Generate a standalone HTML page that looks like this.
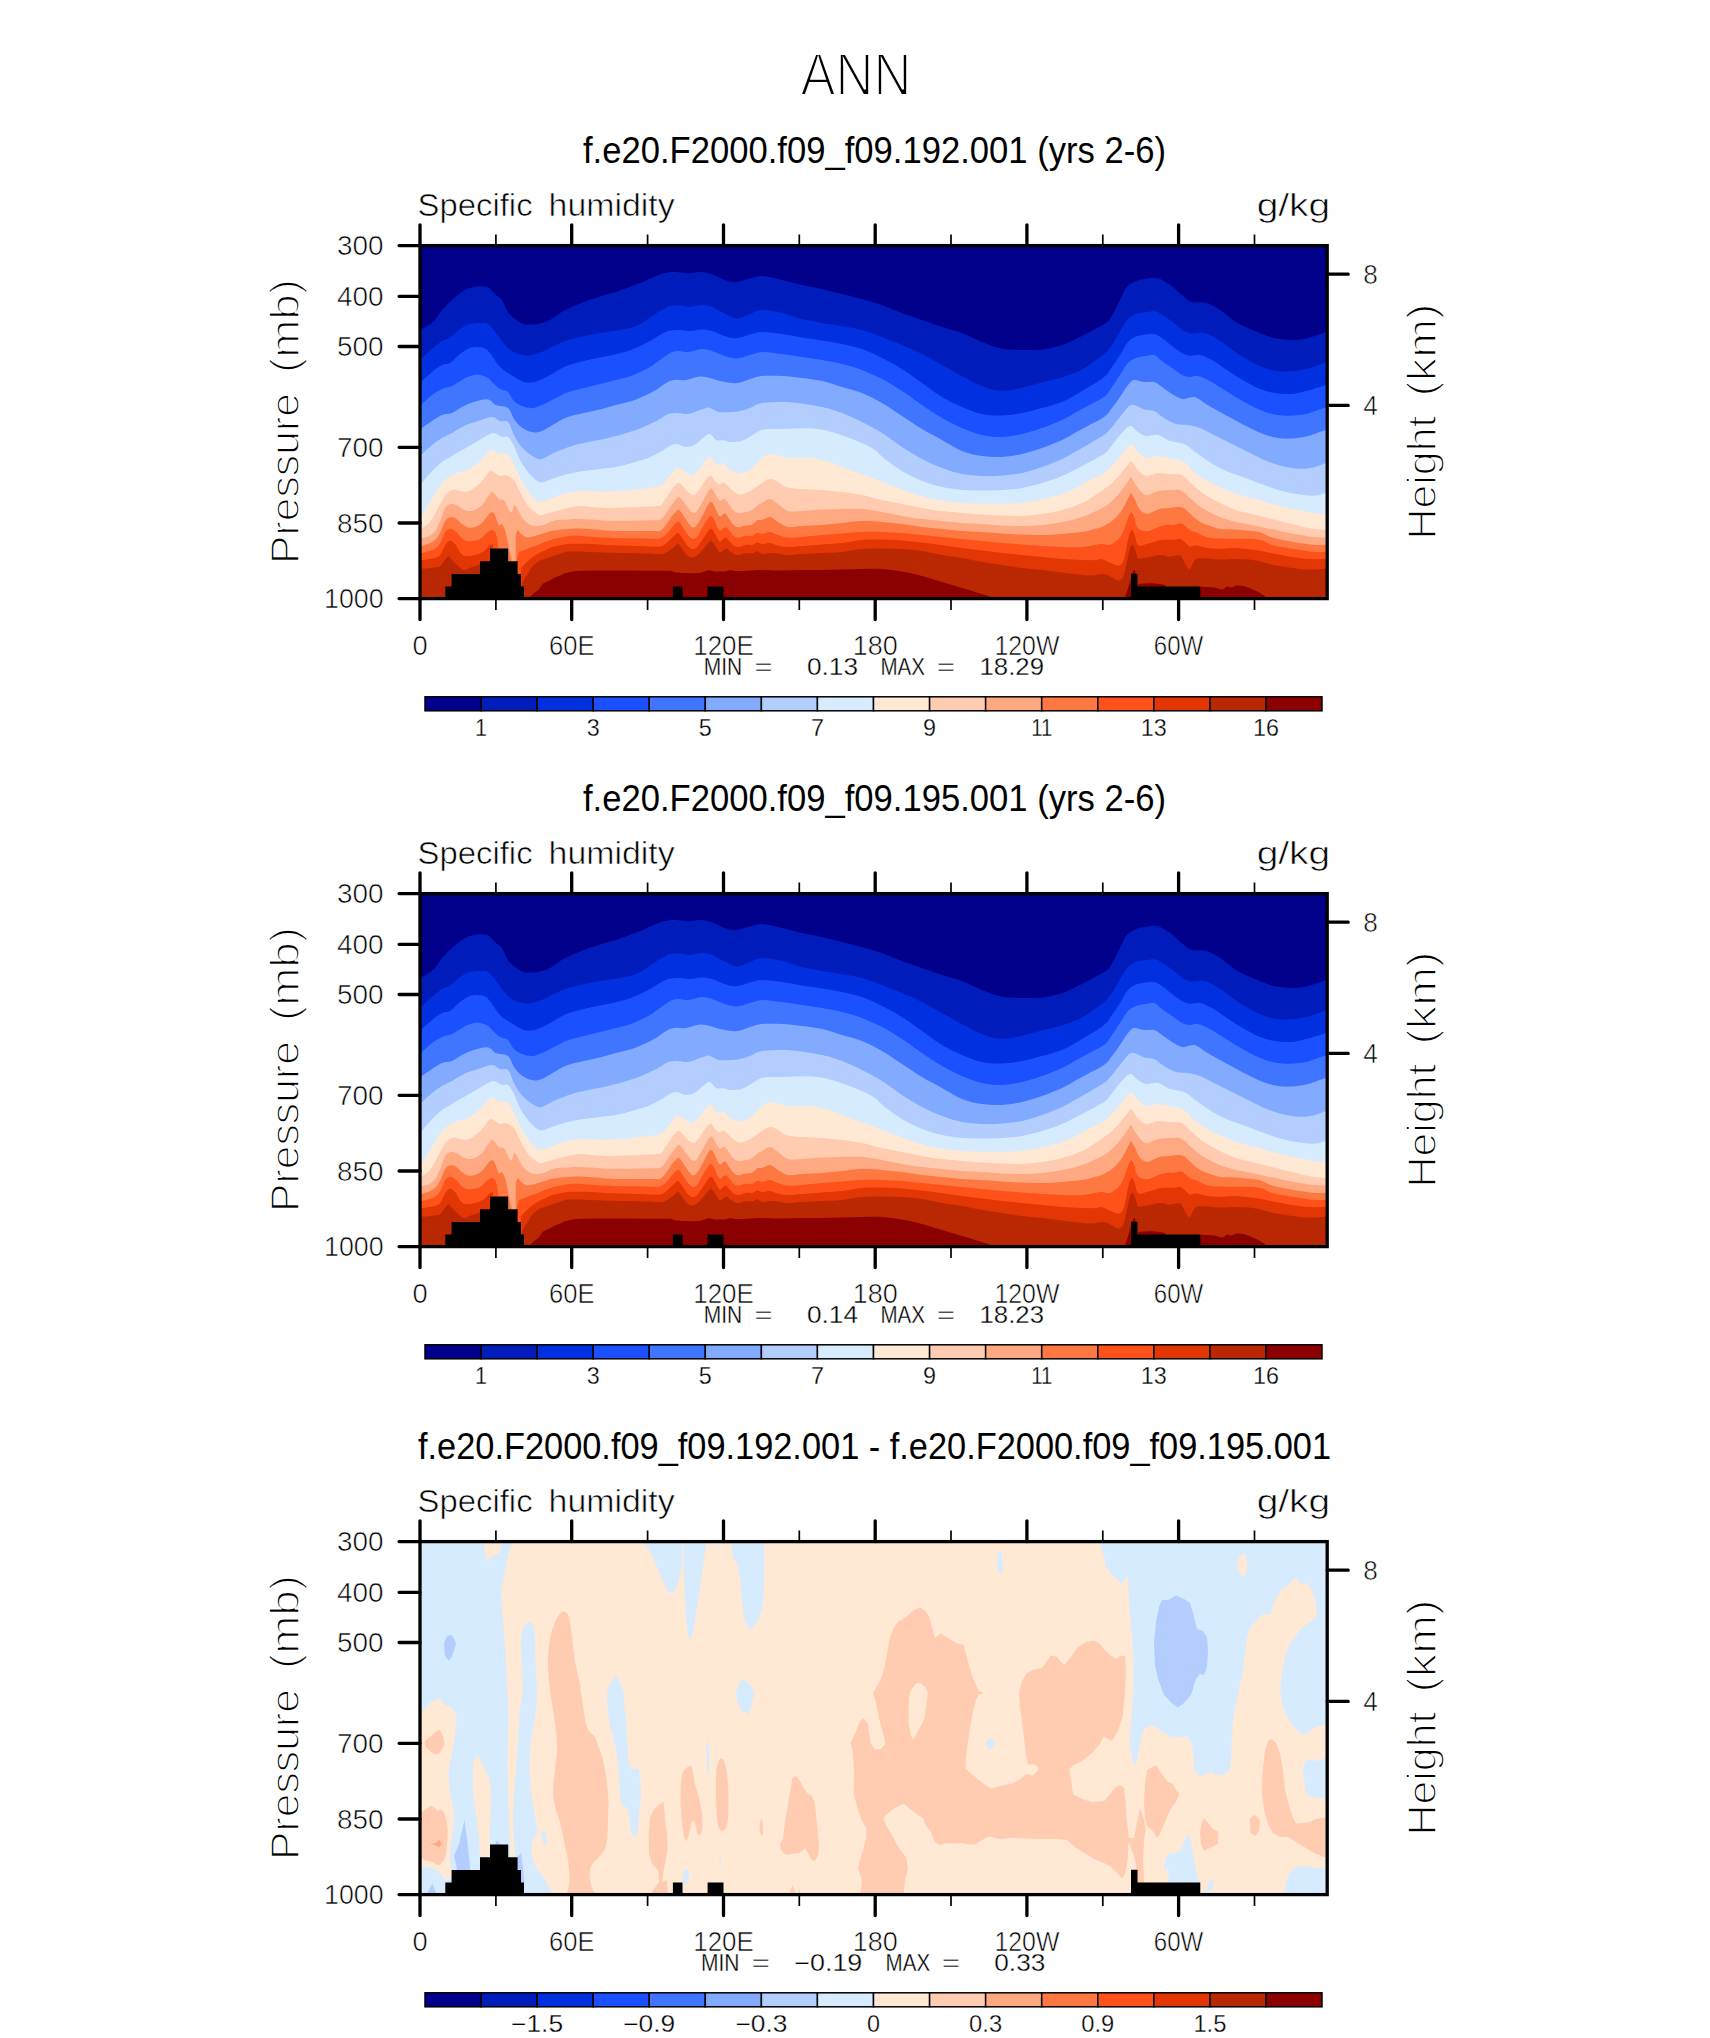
<!DOCTYPE html>
<html lang="en"><head><meta charset="utf-8"><title>ANN Specific humidity</title>
<style>html,body{margin:0;padding:0;background:#fff}svg{display:block}text{font-family:"Liberation Sans", Arial, Helvetica, sans-serif;fill:#000}.h{stroke:#fff;stroke-width:0.6px}.h0{stroke:#fff;stroke-width:0.3px}.t{stroke:#000;stroke-width:0.4px}.h2{stroke:#fff;stroke-width:1.5px}.ax{stroke:#000;fill:none}</style></head><body>
<svg width="1710" height="2038" viewBox="0 0 1710 2038">
<rect width="1710" height="2038" fill="#fff"/>
<defs>
<clipPath id="clipbox"><rect x="420" y="245.6" width="907.2" height="353"/></clipPath>
<g id="humid" clip-path="url(#clipbox)">
<rect x="420" y="245.6" width="907.2" height="353" fill="#00008B"/>
<path d="M420 330C420.3 329.8 421.1 329.5 422 329C422.9 328.5 430.7 324.2 434 321C437.3 317.8 439 313.5 442 310C445 306.5 448.3 303.2 452 300C455.7 296.8 460.3 292.8 464 290.6C467.7 288.4 470.7 287.7 474 287C477.3 286.3 481.6 286.2 484 286.4C486.4 286.6 487.1 286.6 489 288C490.9 289.4 493.8 293 496 295C498.2 297 500 297.2 502 300C504 302.8 506 309 508 312C510 315 511.7 316.1 514 318C516.3 319.9 519 322.3 522 323.4C525 324.5 528.7 324.7 532 324.6C535.3 324.5 539 323.8 542 323C545 322.2 547 321.7 550 320C553 318.3 556.3 315.2 560 313C563.7 310.8 568 308.8 572 307C576 305.2 579.3 303.7 584 302C588.7 300.3 594 298.5 600 296.6C606 294.7 613.3 292.9 620 290.6C626.7 288.3 634 285.4 640 283C646 280.6 651.3 277.8 656 276C660.7 274.2 664 273 668 272.4C672 271.8 676.3 272.2 680 272.4C683.7 272.6 686.7 273.7 690 273.6C693.3 273.5 696.7 272 700 272C703.3 272 706.7 272.6 710 273.6C713.3 274.6 717 276.8 720 278C723 279.2 725.3 280.3 728 281C730.7 281.7 732.7 282.3 736 282C739.3 281.7 743.7 280 748 279C752.3 278 756.3 275.8 762 276C767.7 276.2 775.3 278.5 782 280C788.7 281.5 795.3 283.5 802 285C808.7 286.5 815.3 287.5 822 289C828.7 290.5 835.3 292.3 842 294C848.7 295.7 855.3 297.2 862 299C868.7 300.8 875.3 302.7 882 305C888.7 307.3 895.3 310.5 902 313C908.7 315.5 915.3 317.7 922 320C928.7 322.3 935.3 324.8 942 327C948.7 329.2 955.3 330.5 962 333C968.7 335.5 975.3 339.4 982 342C988.7 344.6 995.3 347.3 1002 348.6C1008.7 349.9 1015.3 349.9 1022 350C1028.7 350.1 1035.3 350.2 1042 349.4C1048.7 348.6 1055.3 347.2 1062 345C1068.7 342.8 1075 339.5 1082 336C1089 332.5 1101 325.8 1104 324C1107 322.2 1108 321.9 1110 319C1112 316.1 1115.3 309.2 1118 304C1120.7 298.8 1123.3 291.7 1126 288C1128.7 284.3 1131 283.5 1134 282C1137 280.5 1140.3 279.7 1144 279C1147.7 278.3 1152.7 277.7 1156 278C1159.3 278.3 1161 279.3 1164 281C1167 282.7 1170.7 285.3 1174 288C1177.3 290.7 1181 294.7 1184 297C1187 299.3 1188.7 301.1 1192 302C1195.3 302.9 1200.3 301.7 1204 302.4C1207.7 303.1 1210.7 304.2 1214 306C1217.3 307.8 1220.3 310.3 1224 313C1227.7 315.7 1232 319.5 1236 322C1240 324.5 1244 326.2 1248 328C1252 329.8 1256 331.4 1260 333C1264 334.6 1268 336.3 1272 337.4C1276 338.5 1280 339.2 1284 339.6C1288 340 1292 340.3 1296 340C1300 339.7 1304.3 338.8 1308 338C1311.7 337.2 1314.8 336.1 1318 335C1321.2 333.9 1325.5 332.2 1327 331.6L1329.2 600.6L418 600.6Z" fill="#001CBA"/>
<path d="M420 359.4C420.3 359.2 421.2 358.7 422 358C422.8 357.3 428.7 351.8 432 349C435.3 346.2 439 342.9 442 341C445 339.1 447 339.4 450 337.4C453 335.4 456.7 331.2 460 329C463.3 326.8 466.7 325 470 324C473.3 323 477 323 480 323C483 323 485.3 322.3 488 324C490.7 325.7 493.7 330.2 496 333C498.3 335.8 500 338.5 502 341C504 343.5 505.7 346 508 348C510.3 350 513 351.8 516 353C519 354.2 522.7 355.2 526 355.4C529.3 355.6 532.3 355.1 536 354C539.7 352.9 544 350.8 548 349C552 347.2 556 344.7 560 343C564 341.3 568 340.2 572 339C576 337.8 579.3 337 584 336C588.7 335 594 334 600 333C606 332 614 331.2 620 330C626 328.8 631.3 327.8 636 326C640.7 324.2 644 321.5 648 319C652 316.5 656.3 313.2 660 311C663.7 308.8 666.7 306.9 670 306C673.3 305.1 676.7 305.4 680 305.6C683.3 305.8 686.7 307.1 690 307C693.3 306.9 696.7 305.2 700 305C703.3 304.8 706.7 305 710 306C713.3 307 716.7 309.3 720 311C723.3 312.7 727 314.8 730 316C733 317.2 735 318.6 738 318.4C741 318.2 744 316.4 748 315C752 313.6 756.3 310.3 762 310C767.7 309.7 775.3 311.5 782 313C788.7 314.5 795.3 317.3 802 319C808.7 320.7 815.3 321.8 822 323C828.7 324.2 835.3 324.8 842 326C848.7 327.2 855.3 328.2 862 330C868.7 331.8 875.3 334.5 882 337C888.7 339.5 895.3 342.2 902 345C908.7 347.8 915.3 350.7 922 354C928.7 357.3 935.3 361.3 942 365C948.7 368.7 955.3 372.5 962 376C968.7 379.5 976 383.6 982 386C988 388.4 992.7 390 998 390.6C1003.3 391.2 1008.3 390.3 1014 389.4C1019.7 388.5 1025.7 386.6 1032 385C1038.3 383.4 1045.3 381.8 1052 380C1058.7 378.2 1066.3 376.2 1072 374C1077.7 371.8 1080.7 370.3 1086 367C1091.3 363.7 1099.8 357.5 1104 354C1108.2 350.5 1109.3 348.8 1112 345C1114.7 341.2 1117.3 335.3 1120 331C1122.7 326.7 1125.3 321.8 1128 319C1130.7 316.2 1133 315.2 1136 314C1139 312.8 1142.7 312.4 1146 312C1149.3 311.6 1153 310.7 1156 311.4C1159 312.1 1161 314.1 1164 316C1167 317.9 1170.7 320.5 1174 323C1177.3 325.5 1181 329.3 1184 331C1187 332.7 1188.7 333.1 1192 333.4C1195.3 333.7 1200.3 332.4 1204 333C1207.7 333.6 1210.3 335 1214 337C1217.7 339 1222 342.2 1226 345C1230 347.8 1234 351.3 1238 354C1242 356.7 1246 358.8 1250 361C1254 363.2 1258 365.4 1262 367C1266 368.6 1270 369.9 1274 370.6C1278 371.3 1282 371.4 1286 371.4C1290 371.4 1294 371.2 1298 370.6C1302 370 1306.3 369 1310 368C1313.7 367 1317.2 365.7 1320 364.6C1322.8 363.5 1325.8 362.1 1327 361.6L1329.2 600.6L418 600.6Z" fill="#0030E0"/>
<path d="M420 382.6C420.3 382.3 421.1 381.8 422 381C422.9 380.2 428.7 374.7 432 372C435.3 369.3 439 366.5 442 365C445 363.5 447 364.8 450 363C453 361.2 456.7 356.5 460 354C463.3 351.5 467 349.2 470 348C473 346.8 475.3 346.8 478 347C480.7 347.2 483.7 347.5 486 349C488.3 350.5 489.7 353 492 356C494.3 359 497.3 364.2 500 367C502.7 369.8 505.3 371.2 508 373C510.7 374.8 513.3 376.5 516 378C518.7 379.5 521.3 381.2 524 382C526.7 382.8 529.3 382.9 532 382.6C534.7 382.3 536.7 381.4 540 380C543.3 378.6 548 376.2 552 374C556 371.8 560 368.8 564 367C568 365.2 571.3 364.3 576 363C580.7 361.7 586.3 360.3 592 359C597.7 357.7 604 356.7 610 355.4C616 354.1 623 352.6 628 351C633 349.4 636.3 347.7 640 346C643.7 344.3 646.7 342.8 650 341C653.3 339.2 656.7 336.7 660 335C663.3 333.3 666.7 331.4 670 330.6C673.3 329.8 676.7 329.9 680 330C683.3 330.1 686.3 331.1 690 331C693.7 330.9 698.3 329.4 702 329.4C705.7 329.4 708.7 330.1 712 331C715.3 331.9 718.7 333.8 722 335C725.3 336.2 729 337.6 732 338C735 338.4 737 338 740 337.4C743 336.8 746.3 335.3 750 334.4C753.7 333.5 756.7 332.1 762 332C767.3 331.9 775.3 333.1 782 334C788.7 334.9 795.3 336.3 802 337.4C808.7 338.5 815.3 339.5 822 340.6C828.7 341.7 835.3 342.6 842 344C848.7 345.4 855.3 346.7 862 349C868.7 351.3 875.3 354.7 882 358C888.7 361.3 895.3 364.8 902 369C908.7 373.2 915.3 378.3 922 383C928.7 387.7 935.3 393 942 397C948.7 401 955.3 404.2 962 407C968.7 409.8 975.3 412.6 982 414C988.7 415.4 995.3 415.6 1002 415.4C1008.7 415.2 1015.3 414.2 1022 413C1028.7 411.8 1035.3 409.8 1042 408C1048.7 406.2 1055.3 404.8 1062 402C1068.7 399.2 1075 395.2 1082 391C1089 386.8 1099.5 380.6 1104 377C1108.5 373.4 1109.3 370.7 1112 367C1114.7 363.3 1117.3 359.2 1120 355C1122.7 350.8 1125.3 345.1 1128 342C1130.7 338.9 1133 337.8 1136 336.6C1139 335.4 1143 335 1146 334.6C1149 334.2 1151.3 333.4 1154 334C1156.7 334.6 1159 336 1162 338C1165 340 1168.7 343.5 1172 346C1175.3 348.5 1179 351.4 1182 353C1185 354.6 1187 355.3 1190 355.6C1193 355.9 1196.3 354.3 1200 355C1203.7 355.7 1208 357.8 1212 360C1216 362.2 1220 365.3 1224 368C1228 370.7 1232 373.5 1236 376C1240 378.5 1244 380.8 1248 383C1252 385.2 1256 387.4 1260 389C1264 390.6 1268 391.8 1272 392.6C1276 393.4 1280 393.9 1284 394C1288 394.1 1292 394 1296 393.4C1300 392.8 1304 391.7 1308 390.6C1312 389.5 1316.8 388.1 1320 387C1323.2 385.9 1325.8 384.7 1327 384.2L1329.2 600.6L418 600.6Z" fill="#1A50FF"/>
<path d="M420 405.6C420.3 405.3 421.1 404.8 422 404C422.9 403.2 428.7 397.5 432 395C435.3 392.5 438.7 390.5 442 389C445.3 387.5 448.7 387.5 452 386C455.3 384.5 458.7 381.7 462 380C465.3 378.3 469 376.4 472 375.6C475 374.8 477.3 374.6 480 375C482.7 375.4 485.7 376.5 488 378C490.3 379.5 492 382.2 494 384C496 385.8 497.7 387.7 500 389C502.3 390.3 505.7 390 508 392C510.3 394 511.7 398.7 514 401C516.3 403.3 519 404.8 522 406C525 407.2 528.7 408.2 532 408C535.3 407.8 538.3 406.5 542 405C545.7 403.5 550 401 554 399C558 397 561.7 394.7 566 393C570.3 391.3 575 390.3 580 389C585 387.7 590.7 386.3 596 385C601.3 383.7 606.7 382.3 612 381C617.3 379.7 623.3 378.5 628 377C632.7 375.5 636.3 373.7 640 372C643.7 370.3 646.7 369 650 367C653.3 365 656.7 362.3 660 360C663.3 357.7 667 354.5 670 353C673 351.5 675 351.2 678 351C681 350.8 684 352.3 688 352C692 351.7 698 349.2 702 349C706 348.8 708.7 350 712 351C715.3 352 718.7 353.8 722 355C725.3 356.2 729 357.5 732 358C735 358.5 737 358.5 740 358C743 357.5 746.3 356 750 355C753.7 354 756.7 352.2 762 352C767.3 351.8 775.3 353.2 782 354C788.7 354.8 795.3 356 802 357C808.7 358 815.3 358.8 822 360C828.7 361.2 835.3 362.3 842 364C848.7 365.7 855.3 367.5 862 370C868.7 372.5 875.3 375.5 882 379C888.7 382.5 895.3 386.7 902 391C908.7 395.3 915.3 400.5 922 405C928.7 409.5 935.3 414.2 942 418C948.7 421.8 955.3 425.2 962 428C968.7 430.8 975.3 433.5 982 435C988.7 436.5 995.3 437.2 1002 437C1008.7 436.8 1015.3 435.5 1022 434C1028.7 432.5 1035.3 430.3 1042 428C1048.7 425.7 1055.3 423.2 1062 420C1068.7 416.8 1075 412.8 1082 409C1089 405.2 1099.3 400.4 1104 397C1108.7 393.6 1109.3 390.7 1112 387C1114.7 383.3 1117.3 379 1120 375C1122.7 371 1125.3 365.8 1128 363C1130.7 360.2 1133 359.2 1136 358C1139 356.8 1143 356.5 1146 356C1149 355.5 1151.3 354.2 1154 355C1156.7 355.8 1159 358.8 1162 361C1165 363.2 1168.7 365.7 1172 368C1175.3 370.3 1179 373.5 1182 375C1185 376.5 1187.3 376.8 1190 377C1192.7 377.2 1194.7 375.3 1198 376C1201.3 376.7 1206 378.9 1210 381C1214 383.1 1218 386.1 1222 388.6C1226 391.1 1230 393.6 1234 396C1238 398.4 1242 400.8 1246 403C1250 405.2 1254 407.3 1258 409C1262 410.7 1266 412.3 1270 413.4C1274 414.5 1278 415.2 1282 415.6C1286 416 1290 415.9 1294 415.6C1298 415.3 1302 414.9 1306 414C1310 413.1 1314.5 411.2 1318 410C1321.5 408.8 1325.5 407.5 1327 407L1329.2 600.6L418 600.6Z" fill="#4076FF"/>
<path d="M420 429.4C420.3 429.2 421.1 428.6 422 428C422.9 427.4 428.7 423.2 432 421C435.3 418.8 438.7 416.3 442 415C445.3 413.7 448.7 414.3 452 413C455.3 411.7 458.3 408.8 462 407C465.7 405.2 469.7 403.3 474 402C478.3 400.7 484.3 398.9 488 399.4C491.7 399.9 492.7 403.6 496 405C499.3 406.4 505 405.7 508 408C511 410.3 512 416 514 419C516 422 517.7 424 520 426C522.3 428 525.3 429.9 528 431C530.7 432.1 533.3 432.6 536 432.4C538.7 432.2 540.7 431.6 544 430C547.3 428.4 552 425.2 556 423C560 420.8 563.3 418.7 568 417C572.7 415.3 578.7 414.3 584 413C589.3 411.7 594.7 410.7 600 409.4C605.3 408.1 610.7 406.4 616 405C621.3 403.6 627.3 402.5 632 401C636.7 399.5 640 397.8 644 396C648 394.2 652.3 392.2 656 390C659.7 387.8 663 384.7 666 383C669 381.3 670.7 380.5 674 380C677.3 379.5 681.7 380.6 686 380C690.3 379.4 696 376.9 700 376.6C704 376.3 706.7 377.3 710 378C713.3 378.7 716.3 380.2 720 381C723.7 381.8 728.7 382.7 732 383C735.3 383.3 737 383.3 740 382.6C743 381.9 746.3 380.1 750 379C753.7 377.9 756.7 376.5 762 376C767.3 375.5 775.3 375.7 782 376C788.7 376.3 795.3 377.2 802 378C808.7 378.8 815.3 379.5 822 381C828.7 382.5 835.3 385 842 387C848.7 389 855.3 390.3 862 393C868.7 395.7 875.3 399.2 882 403C888.7 406.8 895.3 411.7 902 416C908.7 420.3 915.3 425 922 429C928.7 433 935.3 436.3 942 440C948.7 443.7 955.3 448.3 962 451C968.7 453.7 975.3 455 982 456C988.7 457 995.3 457.3 1002 457C1008.7 456.7 1015.3 455.5 1022 454C1028.7 452.5 1035.3 450.3 1042 448C1048.7 445.7 1055.3 443.2 1062 440C1068.7 436.8 1075 432.8 1082 429C1089 425.2 1099.5 420.1 1104 417C1108.5 413.9 1109.3 411.3 1112 408C1114.7 404.7 1117.3 400.8 1120 397C1122.7 393.2 1125.7 387.7 1128 385C1130.3 382.3 1131.3 380.5 1134 380C1136.7 379.5 1140.7 381.7 1144 382C1147.3 382.3 1151 381.2 1154 382C1157 382.8 1159 385 1162 387C1165 389 1168.7 392 1172 394C1175.3 396 1179.3 398.3 1182 399C1184.7 399.7 1185.7 398.3 1188 398C1190.3 397.7 1193 396.4 1196 397.4C1199 398.4 1202.3 401.7 1206 404C1209.7 406.3 1214 408.8 1218 411C1222 413.2 1226 415.2 1230 417.4C1234 419.6 1238 421.9 1242 424C1246 426.1 1250 428.2 1254 430C1258 431.8 1262 433.7 1266 435C1270 436.3 1274 437.4 1278 438C1282 438.6 1285.7 438.8 1290 438.6C1294.3 438.4 1299.7 437.9 1304 437C1308.3 436.1 1312.2 434.6 1316 433.4C1319.8 432.2 1325.2 430.2 1327 429.6L1329.2 600.6L418 600.6Z" fill="#82AAFF"/>
<path d="M420 455.6C420.3 455.3 421.1 454.8 422 454C422.9 453.2 428.7 447.7 432 445C435.3 442.3 438.7 440 442 438C445.3 436 448.3 435 452 433C455.7 431 459.7 428 464 426C468.3 424 473.3 422.5 478 421C482.7 419.5 488.3 417 492 417C495.7 417 497.3 420.2 500 421C502.7 421.8 505.7 419.7 508 422C510.3 424.3 512 431.2 514 435C516 438.8 517.7 442 520 445C522.3 448 525 450.7 528 453C531 455.3 535.4 458.2 538 459C540.6 459.8 541.4 459 544 458C546.6 457 551.3 454 556 452C560.7 450 566.7 447.7 572 446C577.3 444.3 582.7 443.2 588 442C593.3 440.8 598.7 440.2 604 439C609.3 437.8 614.7 436.5 620 435C625.3 433.5 631 431.8 636 430C641 428.2 646 425.8 650 424C654 422.2 657 420.7 660 419C663 417.3 665 415 668 414C671 413 674.7 413 678 413C681.3 413 684.3 414.5 688 414C691.7 413.5 696.7 411.1 700 410C703.3 408.9 705.7 407.4 708 407.4C710.3 407.4 712 409.2 714 410C716 410.8 717.1 411.7 720 412C722.9 412.3 728.7 412.2 732 412C735.3 411.8 737 411.7 740 411C743 410.3 746.3 409.3 750 408C753.7 406.7 756.1 403.8 762 403C767.9 402.2 782 401.7 792 402.4C802 403.1 813.7 405.2 822 407C830.3 408.8 835.3 410.5 842 413C848.7 415.5 855.3 418.7 862 422C868.7 425.3 875.3 428.8 882 433C888.7 437.2 895.3 442.7 902 447C908.7 451.3 915.3 455.5 922 459C928.7 462.5 935.3 465.5 942 468C948.7 470.5 955.3 472.7 962 474C968.7 475.3 975.3 475.7 982 476C988.7 476.3 995.3 476.1 1002 475.6C1008.7 475.1 1015.3 474.4 1022 473C1028.7 471.6 1035.3 469.3 1042 467C1048.7 464.7 1055.3 462.2 1062 459C1068.7 455.8 1075 452 1082 448C1089 444 1099.8 437.9 1104 435C1108.2 432.1 1109.3 430 1112 427C1114.7 424 1117.3 420.3 1120 417C1122.7 413.7 1125.8 408.9 1128 407C1130.2 405.1 1131.3 404.6 1134 405C1136.7 405.4 1140.7 408.4 1144 409.4C1147.3 410.4 1150.7 409.6 1154 411C1157.3 412.4 1160.3 415.8 1164 418C1167.7 420.2 1172 422.8 1176 424C1180 425.2 1184 424.3 1188 425C1192 425.7 1196 426.5 1200 428C1204 429.5 1208 432 1212 434C1216 436 1220 438 1224 440C1228 442 1232 444 1236 446C1240 448 1244 450 1248 452C1252 454 1256 456.2 1260 458C1264 459.8 1268 461.6 1272 463C1276 464.4 1280 465.5 1284 466.4C1288 467.3 1292 468.1 1296 468.4C1300 468.7 1304.3 468.8 1308 468.4C1311.7 468 1314.8 467 1318 466C1321.2 465 1325.5 463.2 1327 462.6L1329.2 600.6L418 600.6Z" fill="#B4CDFF"/>
<path d="M420 485C420.3 484.7 421.2 484 422 483C422.8 482 428.7 474.5 432 471C435.3 467.5 438.7 464.5 442 462C445.3 459.5 448.3 458.2 452 456C455.7 453.8 459.7 451.5 464 449C468.3 446.5 474 443.3 478 441C482 438.7 485.4 436.3 488 435C490.6 433.7 491.7 432.7 494 433C496.3 433.3 499.7 436.3 502 437C504.3 437.7 506 435.5 508 437C510 438.5 512 442.2 514 446C516 449.8 517.7 455.7 520 460C522.3 464.3 525.3 468.7 528 472C530.7 475.3 533.7 478.3 536 480C538.3 481.7 539.3 482.6 542 482.4C544.7 482.2 547.7 480.4 552 479C556.3 477.6 562.7 475.3 568 474C573.3 472.7 578.7 471.8 584 471C589.3 470.2 594.7 469.7 600 469C605.3 468.3 610.7 468 616 467C621.3 466 626.7 464.5 632 463C637.3 461.5 643.3 459.8 648 458C652.7 456.2 656.3 454 660 452C663.7 450 667.2 447.3 670 446C672.8 444.7 674.3 443.8 677 444C679.7 444.2 682.8 447 686 447C689.2 447 693 445.7 696 444C699 442.3 701.7 438.7 704 437C706.3 435.3 708 433.5 710 434C712 434.5 713.7 438.9 716 440C718.3 441.1 721.3 440.1 724 440.4C726.7 440.7 728.7 442.1 732 442C735.3 441.9 739 442 744 440C749 438 755.7 431.8 762 430C768.3 428.2 773.7 429.3 782 429C790.3 428.7 803.7 427.9 812 428.4C820.3 428.9 825.3 430.2 832 432C838.7 433.8 845.3 436.3 852 439C858.7 441.7 866.3 444.5 872 448C877.7 451.5 881 456.2 886 460C891 463.8 896 467.5 902 471C908 474.5 915.3 478.3 922 481C928.7 483.7 935.3 485.5 942 487C948.7 488.5 955.3 489.4 962 490C968.7 490.6 975.3 490.6 982 490.6C988.7 490.6 995.3 490.4 1002 490C1008.7 489.6 1015.3 489.2 1022 488C1028.7 486.8 1035.3 485 1042 483C1048.7 481 1055.3 478.8 1062 476C1068.7 473.2 1075 469.7 1082 466C1089 462.3 1100.8 456.1 1104 454C1107.2 451.9 1107.5 451 1110 448C1112.5 445 1116.7 438.7 1120 435C1123.3 431.3 1127.1 426.5 1130 426C1132.9 425.5 1135.3 430.3 1138 432C1140.7 433.7 1142.7 435.5 1146 436C1149.3 436.5 1154 434.2 1158 435C1162 435.8 1165.7 439.5 1170 441C1174.3 442.5 1180 442.3 1184 444C1188 445.7 1190 448.2 1194 451C1198 453.8 1203 457.8 1208 461C1213 464.2 1218.7 467.5 1224 470C1229.3 472.5 1234.7 474 1240 476C1245.3 478 1250.7 480 1256 482C1261.3 484 1266.7 486.2 1272 488C1277.3 489.8 1282.7 491.4 1288 492.6C1293.3 493.8 1299.3 494.5 1304 495C1308.7 495.5 1312.2 496 1316 495.6C1319.8 495.2 1325.2 493.1 1327 492.6L1329.2 600.6L418 600.6Z" fill="#D7EBFF"/>
<path d="M420 517C420.3 516.7 421.2 516 422 515C422.8 514 425.7 509.8 428 506C430.3 502.2 433.3 496.2 436 492C438.7 487.8 441 484 444 481C447 478 450.3 475.7 454 474C457.7 472.3 462 472.8 466 471C470 469.2 474.7 465.7 478 463C481.3 460.3 483.8 457.2 486 455C488.2 452.8 488.7 450.2 491 450C493.3 449.8 497.5 453.4 500 454C502.5 454.6 504 452.6 506 453.6C508 454.6 510 456.6 512 460C514 463.4 515.7 469.3 518 474C520.3 478.7 523.3 484 526 488C528.7 492 531.3 495.7 534 498C536.7 500.3 539 501.6 542 501.6C545 501.6 548.3 499.3 552 498C555.7 496.7 559.3 495.2 564 494C568.7 492.8 574 491.4 580 491C586 490.6 593.3 491.6 600 491.6C606.7 491.6 613.3 491.4 620 491C626.7 490.6 633.3 489.8 640 489C646.7 488.2 655.3 487.8 660 486C664.7 484.2 665.7 480.5 668 478C670.3 475.5 672.3 472.7 674 471C675.7 469.3 676.3 467.6 678 467.6C679.7 467.6 681.7 469.8 684 471C686.3 472.2 689.3 475.5 692 475C694.7 474.5 697.7 470.5 700 468C702.3 465.5 704.4 461.9 706 460C707.6 458.1 708.8 456 710 456.4C711.2 456.8 714.4 461.5 716 463C717.6 464.5 718.7 465.4 720 465.6C721.3 465.8 722.2 463.2 724 464C725.8 464.8 729 469.5 732 471C735 472.5 738.7 473.5 742 473C745.3 472.5 748.7 470.5 752 468C755.3 465.5 759 460.3 762 458C765 455.7 767.3 454.4 770 454C772.7 453.6 775.3 454.9 778 455.6C780.7 456.3 782.2 457.7 786 458C789.8 458.3 804.3 457.2 812 458C819.7 458.8 825.3 460.8 832 463C838.7 465.2 845.3 468.5 852 471C858.7 473.5 865.3 475.5 872 478C878.7 480.5 885.3 483.5 892 486C898.7 488.5 905.3 490.8 912 493C918.7 495.2 925.3 497.5 932 499C938.7 500.5 945.3 501.2 952 502C958.7 502.8 965.3 503.3 972 503.6C978.7 503.9 985.3 504 992 504C998.7 504 1005.3 504 1012 503.6C1018.7 503.2 1025.3 502.7 1032 501.6C1038.7 500.5 1045.3 498.9 1052 497C1058.7 495.1 1066 492.7 1072 490C1078 487.3 1082.7 483.8 1088 481C1093.3 478.2 1100 475.5 1104 473C1108 470.5 1109 469.2 1112 466C1115 462.8 1118.8 457.7 1122 454C1125.2 450.3 1129.6 444.2 1131 444C1132.4 443.8 1135.5 449.7 1138 452C1140.5 454.3 1142.7 457.3 1146 458C1149.3 458.7 1154 455.9 1158 456C1162 456.1 1165.7 457.4 1170 458.4C1174.3 459.4 1180 459.7 1184 462C1188 464.3 1190 468.8 1194 472C1198 475.2 1203 478.2 1208 481C1213 483.8 1218.7 486.7 1224 489C1229.3 491.3 1234.7 493.3 1240 495C1245.3 496.7 1250.7 497.5 1256 499C1261.3 500.5 1266.7 502.5 1272 504C1277.3 505.5 1282.7 506.8 1288 508C1293.3 509.2 1299.3 510.1 1304 511C1308.7 511.9 1312.2 513.1 1316 513.6C1319.8 514.1 1325.2 513.9 1327 514L1329.2 600.6L418 600.6Z" fill="#FFE9D5"/>
<path d="M420 529.6C420.3 529.3 421.1 528.7 422 528C422.9 527.3 427.3 525.3 430 522C432.7 518.7 435.3 512.7 438 508C440.7 503.3 443.3 497.1 446 494C448.7 490.9 450.7 489.9 454 489.6C457.3 489.3 462 492.8 466 492C470 491.2 474.7 487.7 478 485C481.3 482.3 483.8 478.3 486 476C488.2 473.7 488.7 471 491 471C493.3 471 497.8 475.4 500 476C502.2 476.6 502.8 474.4 505 475C507.2 475.6 511.5 477.2 514 480C516.5 482.8 517.7 487.7 520 492C522.3 496.3 525.3 502.5 528 506C530.7 509.5 533.7 511.5 536 513C538.3 514.5 539.3 515.2 542 515C544.7 514.8 547.4 513.1 552 512C556.6 510.9 571.2 507.1 577.7 506.3C584.2 505.5 587.3 506.7 592.1 506.9C597 507.2 601.4 507.8 606.6 507.9C611.8 508 617.8 507.7 623.5 507.5C629.1 507.4 635.1 507.1 640.3 506.9C645.5 506.7 652 506.6 654.8 506.3C657.6 506.1 659 506.3 660.8 505.1C662.6 503.9 663.8 501.6 665.6 499.1C667.4 496.6 669.8 492.6 671.6 490C673.5 487.5 675.6 484.8 676.5 484C677.3 483.2 677.9 482.8 678.9 483.1C679.9 483.4 681.1 484.5 682.5 485.8C683.9 487.2 685.7 489.7 687.3 491.3C688.9 492.8 690.7 494.5 692.1 494.9C693.5 495.3 694.4 494.8 695.7 493.7C697.1 492.5 699 489.8 700.6 487.6C702.2 485.4 703.7 482.4 705.4 480.4C707.1 478.4 709.5 475.4 710.6 475.6C711.7 475.8 714.5 480.6 716 482C717.5 483.4 718.7 483.9 720 484C721.3 484.1 722.3 481.7 724 482.6C725.7 483.5 729.3 488 732 490C734.7 492 737 494.4 740 494.6C743 494.8 746.3 492.9 750 491C753.7 489.1 758.7 485 762 483C765.3 481 767.3 479.2 770 479C772.7 478.8 775.3 480.7 778 482C780.7 483.3 782 485.8 786 487C790 488.2 796 488.5 802 489C808 489.5 815.3 489.5 822 490C828.7 490.5 835.3 491.2 842 492C848.7 492.8 855.3 493.7 862 495C868.7 496.3 875.3 498.5 882 500C888.7 501.5 895.3 502.7 902 504C908.7 505.3 915.3 506.8 922 508C928.7 509.2 935.3 510.2 942 511C948.7 511.8 955.3 512.4 962 513C968.7 513.6 975.3 514.2 982 514.6C988.7 515 995.3 515.4 1002 515.6C1008.7 515.8 1015.3 516.3 1022 516C1028.7 515.7 1035.3 515 1042 514C1048.7 513 1055.3 511.8 1062 510C1068.7 508.2 1076.7 505.3 1082 503C1087.3 500.7 1090.3 498.3 1094 496C1097.7 493.7 1101 491.2 1104 489C1107 486.8 1109 485.8 1112 483C1115 480.2 1118.8 475.7 1122 472C1125.2 468.3 1130 461.1 1131 461C1132 460.9 1135.5 467.5 1138 470C1140.5 472.5 1142.7 475.5 1146 476C1149.3 476.5 1154 473.3 1158 473C1162 472.7 1166 473.7 1170 474C1174 474.3 1178.3 473.3 1182 475C1185.7 476.7 1188.3 480.8 1192 484C1195.7 487.2 1199.3 490.8 1204 494C1208.7 497.2 1214.7 500.3 1220 503C1225.3 505.7 1230.7 508.2 1236 510C1241.3 511.8 1246.7 512.7 1252 514C1257.3 515.3 1262.7 516.7 1268 518C1273.3 519.3 1278.7 520.7 1284 522C1289.3 523.3 1295 524.8 1300 526C1305 527.2 1309.5 528.3 1314 529C1318.5 529.7 1324.8 529.8 1327 530L1329.2 600.6L418 600.6Z" fill="#FFCCB1"/>
<path d="M420 538.4C420.3 538.4 421.1 538.2 422.1 538C423 537.8 426.2 537.5 428.3 536.4C430.4 535.2 433 533.9 434.9 531.4C436.9 528.9 438.4 524.9 439.9 521.4C441.5 517.9 442.9 513.1 444.1 510.6C445.2 508.1 446 506.7 447.4 505.6C448.8 504.5 450.7 504 452.4 504C454 504 455.6 504.7 457.4 505.6C459.2 506.5 461.1 508.5 463.2 509.4C465.3 510.3 467.6 511.1 469.8 511C472 511 474.3 510.1 476.5 508.9C478.7 507.8 481.3 505.9 483.1 504C484.9 502 486.2 498.9 487.3 497.3C488.3 495.8 489 494.9 489.8 494C490.5 493.1 491 492.1 491.6 492C492.2 491.9 493 492.8 493.5 493.2C494 493.5 494.3 493.5 494.7 494C495.2 494.5 496.4 496.4 497.2 497.3C498.1 498.2 498.6 498.9 499.7 499.4C500.8 499.9 502.8 499.3 503.9 500.2C505 501.1 505.5 503.2 506.4 504.8C507.2 506.4 508 508.5 508.9 509.8C509.8 511.1 511.8 512.7 511.8 512.7C511.8 512.7 513 508.5 513.4 507.3C513.9 506.1 514.6 504.8 514.7 504.8C514.7 504.8 516.2 506.5 517.2 508.1C518.1 509.7 519.2 512.7 520.5 514.8C521.7 516.8 523 518.8 524.6 520.6C526.3 522.3 528.2 524.2 530.4 525.1C532.7 526 535.3 526.2 537.9 526C540.5 525.8 543.5 524.8 546.2 523.9C549 523 551.3 521.3 554.5 520.6C557.8 519.9 561.8 519.8 565.6 519.6C569.5 519.3 573.3 519 577.7 519C582.1 519 587.3 519.3 592.1 519.6C597 519.9 601.4 520.6 606.6 520.8C611.8 521 617.8 520.8 623.5 520.8C629.1 520.7 635.1 520.5 640.3 520.4C645.5 520.3 652 520.3 654.8 520.2C657.5 520.1 659 520.6 660.8 519.6C662.6 518.6 663.8 516.5 665.6 514.1C667.4 511.7 669.8 507.7 671.6 505.1C673.5 502.5 675.6 499.5 676.5 498.5C677.3 497.5 677.9 496.6 678.9 496.9C679.9 497.2 681.1 498.6 682.5 500.3C683.9 502 685.7 504.9 687.3 506.9C688.9 508.9 690.7 511.4 692.1 512.3C693.5 513.2 694.5 513.4 695.7 512.3C697 511.3 699 507.8 700.6 505.1C702.2 502.4 704 498.6 705.4 496.1C706.8 493.6 708.2 491 709 490C709.8 489.1 710.6 488.4 711.4 488.6C712.2 488.8 712.9 489.9 713.8 491.3C714.7 492.6 716.3 496.3 717.4 497.9C718.5 499.5 719.6 500.7 720.4 500.9C721.3 501.1 722 499.4 722.8 499.1C723.7 498.8 724.4 498.4 725.3 499.1C726.1 499.8 727 501.5 728.3 503.3C729.6 505.1 731.5 508.3 733.1 509.9C734.7 511.5 736.1 512.5 737.9 512.9C739.7 513.3 741.7 512.7 743.9 512.3C746.1 511.9 748.9 511.6 751.2 510.5C753.4 509.4 755.4 507 757.2 505.7C759 504.5 759.9 504.1 762 503C764.1 501.9 767.3 498.8 770 499C772.7 499.2 775 502 778 504C781 506 784 509.8 788 511C792 512.2 796.3 511.2 802 511C807.7 510.8 815.3 509.9 822 509.6C828.7 509.3 835.3 509.1 842 509C848.7 508.9 855.3 508.5 862 509C868.7 509.5 875.3 510.8 882 512C888.7 513.2 895.3 514.8 902 516C908.7 517.2 915.3 518.2 922 519C928.7 519.8 935.3 520.3 942 521C948.7 521.7 955.3 522.5 962 523C968.7 523.5 975.3 523.6 982 524C988.7 524.4 995.3 525.1 1002 525.4C1008.7 525.7 1015.3 526.1 1022 526C1028.7 525.9 1035.3 525.7 1042 525C1048.7 524.3 1055.3 523.3 1062 522C1068.7 520.7 1076.7 518.7 1082 517C1087.3 515.3 1090.3 513.7 1094 512C1097.7 510.3 1101 508.8 1104 507C1107 505.2 1109 503.8 1112 501C1115 498.2 1118.8 494 1122 490C1125.2 486 1130.7 477 1131 477C1131.3 477 1135.5 485 1138 488C1140.5 491 1142.7 494.5 1146 495C1149.3 495.5 1154 491.8 1158 491C1162 490.2 1166 490 1170 490C1174 490 1178.3 489.3 1182 491C1185.7 492.7 1188.3 497 1192 500C1195.7 503 1199.3 506.2 1204 509C1208.7 511.8 1214.7 514.8 1220 517C1225.3 519.2 1230.7 520.7 1236 522C1241.3 523.3 1246.7 523.9 1252 525C1257.3 526.1 1262.7 527.2 1268 528.4C1273.3 529.6 1278.7 530.9 1284 532C1289.3 533.1 1295 534.2 1300 535C1305 535.8 1309.5 536.6 1314 537C1318.5 537.4 1324.8 537.5 1327 537.6L1329.2 600.6L418 600.6Z" fill="#FFA983"/>
<path d="M420 546.3C420.3 546.2 421.2 546.2 422.1 545.9C423 545.6 426.2 544.8 428.3 543.8C430.4 542.9 433 541.9 434.9 540.1C436.9 538.3 438.4 535.9 439.9 533C441.5 530.2 442.9 525.3 444.1 523.1C445.3 520.8 446.2 519.5 447.4 518.5C448.6 517.5 450 517.2 451.6 517.3C453.1 517.3 454.7 517.7 456.5 518.9C458.3 520.1 460.4 522.9 462.4 524.3C464.3 525.8 466.2 527.1 468.2 527.6C470.1 528.1 472 527.7 474 527.2C475.9 526.7 478 526 479.8 524.7C481.6 523.5 483.2 521.5 484.8 519.7C486.3 518 487.7 515.7 488.9 514.3C490.2 513 491.5 511.8 492.2 511.9C493 511.9 493.9 513.2 494.7 514.8C495.5 516.3 496.5 519.6 497.2 521.4C498 523.2 498.9 525.3 499.3 525.6C499.7 525.8 501.3 523.7 501.8 523.9C502.3 524.1 503.2 525.7 503.9 527.2C504.6 528.7 505.3 530.7 505.9 533C506.6 535.4 507.1 538.4 507.6 541.3C508.2 544.2 508.6 547.7 509.3 550.5C509.9 553.2 510.8 555.9 511.3 557.9C511.9 560 511.9 562.1 512.6 562.9C513.3 563.8 515.1 564.2 515.5 562.9C515.9 561.7 515.6 556.8 515.7 552.1C515.7 547.4 515.7 537.1 515.9 534.7C516.2 532.2 518 529.7 518 529.7C518 529.7 519.4 531.9 520.5 533C521.6 534.1 523.4 535.6 524.6 536.4C525.9 537.1 526.3 537.7 528 537.6C529.6 537.5 533.5 536.3 536.3 535.5C539 534.8 541.8 533.9 544.6 533C547.3 532.2 549.4 531.2 552.9 530.5C556.4 529.9 561.5 529.5 565.6 529.2C569.8 528.9 573.3 528.6 577.7 528.6C582.1 528.6 587.3 528.9 592.1 529.2C597 529.5 601.4 530.1 606.6 530.4C611.8 530.7 617.8 530.9 623.5 531C629.1 531.1 635.1 531 640.3 531C645.5 531 652 531.1 654.8 531C657.5 530.9 659 531.3 660.8 530.4C662.6 529.5 663.8 527.9 665.6 525.6C667.4 523.3 669.8 519 671.6 516.5C673.5 514.1 675.6 512 676.5 511.1C677.4 510.3 677.9 509.4 678.9 509.9C679.9 510.4 681.1 512.2 682.5 514.1C683.9 516 685.7 519.2 687.3 521.4C688.9 523.5 690.7 526.3 692.1 527.2C693.5 528 694.5 527.4 695.7 526.2C697 525 699 521.7 700.6 519C702.2 516.2 704 512.5 705.4 509.9C706.8 507.3 708.2 504.3 709 503.3C709.7 502.3 710.6 501.8 711.4 502.1C712.2 502.4 713 503.6 713.8 505.1C714.7 506.6 716.4 511.1 717.4 512.9C718.5 514.8 719.7 516.4 720.4 516.5C721.2 516.7 722.5 514.5 723.5 514.1C724.4 513.7 725 513.4 725.9 514.1C726.7 514.9 728.1 517.7 729.5 519.6C730.9 521.5 732.7 524.3 734.3 525.6C735.9 526.9 737.3 527.4 739.1 527.4C740.9 527.4 742.9 526.1 745.1 525.6C747.3 525.1 750.4 525.3 752.4 524.4C754.4 523.5 755.6 520.9 757.2 520.2C758.8 519.4 759.9 520.5 762 520C764.1 519.5 767.3 516.7 770 517C772.7 517.3 775 520.3 778 522C781 523.7 784 526.3 788 527C792 527.7 796.3 526.3 802 526C807.7 525.7 815.3 525.5 822 525C828.7 524.5 835.3 523.7 842 523C848.7 522.3 855.3 521.2 862 521C868.7 520.8 875.3 521.5 882 522C888.7 522.5 895.3 523.2 902 524C908.7 524.8 915.3 526.2 922 527C928.7 527.8 935.3 528.3 942 529C948.7 529.7 955.3 530.5 962 531C968.7 531.5 975.3 531.6 982 532C988.7 532.4 995.3 533.2 1002 533.6C1008.7 534 1015.3 534.4 1022 534.6C1028.7 534.8 1035.3 535.1 1042 535C1048.7 534.9 1055.3 534.5 1062 534C1068.7 533.5 1076.7 532.8 1082 532C1087.3 531.2 1090.7 530.1 1094 529.2C1097.3 528.3 1099 528.2 1101.9 526.8C1104.9 525.5 1108.9 523.2 1111.9 520.9C1114.9 518.6 1117.7 515.6 1119.8 512.9C1122 510.3 1123.6 507.1 1124.8 505C1126 502.8 1126.3 502 1127.3 500C1128.3 498 1131 493 1131 493C1131 493 1134.2 498 1135.2 500C1136.3 502 1136.3 503.2 1137.2 505C1138.1 506.7 1139.1 508.9 1140.7 510.4C1142.3 511.9 1144.7 513.7 1146.7 513.9C1148.7 514.2 1150.5 512.8 1152.6 511.9C1154.8 511.1 1156.8 509.6 1159.6 508.9C1162.4 508.3 1166.2 508.3 1169.5 508C1172.8 507.6 1177.1 506.9 1179.5 507C1181.8 507 1182.8 507.5 1184.4 508.5C1186.1 509.4 1187.6 511.3 1189.4 512.9C1191.2 514.6 1193.4 516.8 1195.4 518.4C1197.4 520 1199 521.1 1201.3 522.4C1203.7 523.6 1206.3 524.8 1209.3 525.8C1212.3 526.9 1215.9 528.3 1219.2 528.8C1222.6 529.4 1225.9 529.2 1229.2 529.3C1232.5 529.5 1235.8 529.6 1239.1 529.8C1242.4 530.1 1245.6 530.4 1249.1 530.8C1252.5 531.2 1256.2 531.2 1260 532.3C1263.8 533.4 1267.3 536.2 1272 537.6C1276.7 539 1282.7 540 1288 541C1293.3 542 1299.3 542.9 1304 543.6C1308.7 544.3 1312.2 544.8 1316 545C1319.8 545.2 1325.2 545 1327 545L1329.2 600.6L418 600.6Z" fill="#FE7942"/>
<path d="M420 553.4C420.3 553.3 421.1 553.2 422.1 553C423 552.7 426.2 552 428.3 551.3C430.4 550.6 433 550.1 434.9 548.8C436.9 547.6 438.4 546.3 439.9 543.8C441.5 541.3 443 536 444.1 533.9C445.2 531.7 446.2 530.5 447.4 529.7C448.6 528.9 450 528.5 451.6 528.9C453.1 529.3 454.9 530.7 456.5 532.2C458.2 533.7 459.9 536.6 461.5 538C463.2 539.5 464.6 540.4 466.5 540.9C468.4 541.4 470.9 541.2 473.1 540.9C475.4 540.6 477.9 540.3 479.8 539.3C481.7 538.2 483.2 536 484.8 534.7C486.3 533.4 487.7 532.1 488.9 531.4C490.2 530.6 491.1 529.8 492.2 530.1C493.4 530.4 494.7 531.6 495.6 533C496.4 534.5 496.8 536.8 497.2 538.8C497.6 540.9 497.9 544.1 498.1 545.5C498.2 546.9 498.4 547.1 498.5 548.6C498.5 550 496.7 562.6 498.9 564.6C501.1 566.6 514.8 564.9 516.3 564.6C517.9 564.3 516.5 562.3 516.7 561.1C517 559.9 517.2 558.6 517.6 557.1C518 555.6 518.1 553.3 519.2 552.1C520.4 551 522.5 550.9 524.6 550.1C526.8 549.2 529.5 548.2 532.1 547.1C534.7 546.1 537.2 545.1 540.4 543.8C543.6 542.6 547 540.9 551.2 539.7C555.4 538.4 561.2 537.1 565.6 536.4C570.1 535.8 573.3 535.8 577.7 535.8C582.1 535.9 587.3 536.4 592.1 536.7C597 537 601.4 537.4 606.6 537.6C611.8 537.9 617.8 538.1 623.5 538.2C629.1 538.3 635.1 538.1 640.3 538.2C645.5 538.3 651.5 538.9 654.8 538.8C658.1 538.7 659.8 538.7 662 537.6C664.2 536.5 666.2 534.1 668 532.2C669.8 530.3 671.4 527.8 672.9 526.2C674.3 524.6 675.5 523.2 676.5 522.6C677.4 521.9 678 521.3 678.9 522C679.8 522.6 681.1 524.8 682.5 526.8C683.9 528.8 685.7 532 687.3 534C688.9 536 690.6 538.2 692.1 538.8C693.6 539.4 694.9 538.9 696.3 537.6C697.8 536.3 699.1 533.5 700.6 531C702.1 528.5 704 524.9 705.4 522.6C706.8 520.3 708.2 518 709 517.2C709.8 516.3 710.5 515.8 711.4 516.3C712.3 516.8 713.4 518.3 714.4 520.2C715.4 522 716.4 525.6 717.4 527.4C718.4 529.2 719.9 530.9 720.4 531C721 531.1 722.4 528.6 723.5 528C724.5 527.4 725.5 526.9 726.5 527.4C727.5 527.9 728.2 529.5 729.5 531C730.8 532.5 732.7 535.3 734.3 536.4C735.9 537.5 737.3 537.7 739.1 537.6C740.9 537.5 742.9 536.1 745.1 535.8C747.3 535.5 750.4 536.3 752.4 535.8C754.4 535.3 755.6 533.1 757.2 532.8C758.8 532.5 759.9 534.1 762 534C764.1 533.9 767.3 531.8 770 532C772.7 532.2 775 534.1 778 535C781 535.9 784 537.3 788 537.6C792 537.9 796.3 537.4 802 537C807.7 536.6 815.3 535.6 822 535C828.7 534.4 835.3 533.9 842 533.4C848.7 532.9 855.3 532.2 862 532C868.7 531.8 875.3 531.8 882 532C888.7 532.2 895.3 532.5 902 533C908.7 533.5 915.3 534.3 922 535C928.7 535.7 935.3 536.3 942 537C948.7 537.7 955.3 538.3 962 539C968.7 539.7 975.3 540.3 982 541C988.7 541.7 995.3 542.4 1002 543C1008.7 543.6 1015.3 543.9 1022 544.4C1028.7 544.9 1035.3 545.6 1042 546C1048.7 546.4 1055.3 546.8 1062 547C1068.7 547.2 1076.3 547.4 1082 547C1087.7 546.6 1093.3 545.2 1096 544.7C1098.7 544.3 1099.9 543.7 1101.9 543.7C1103.9 543.8 1105.9 545.4 1107.9 545.2C1109.9 545.1 1111.9 544 1113.9 542.7C1115.8 541.5 1118.2 539.9 1119.8 537.8C1121.5 535.6 1122.6 532.8 1123.8 529.8C1125 526.8 1126.3 522.5 1127.3 519.9C1128.3 517.2 1129.2 514.9 1129.8 513.9C1130.3 512.9 1131.4 512.2 1131.8 512.4C1132.1 512.7 1133.5 514.8 1134.2 516.9C1135 519 1135.5 522.9 1136.2 524.9C1137 526.8 1137.5 527.8 1138.7 528.8C1140 529.8 1141.9 530.5 1143.7 530.8C1145.5 531.2 1147.3 531.4 1149.6 530.8C1152 530.2 1155 528.3 1157.6 527.3C1160.3 526.3 1162.9 525.3 1165.6 524.9C1168.2 524.4 1170.9 525.1 1173.5 524.9C1176.2 524.6 1179.3 522.9 1181.5 523.4C1183.6 523.8 1184.8 526.1 1186.4 527.3C1188.1 528.6 1189.6 529.9 1191.4 530.8C1193.2 531.7 1195.2 531.9 1197.4 532.8C1199.5 533.7 1201.5 535.4 1204.3 536.3C1207.1 537.2 1210.1 537.9 1214.3 538.3C1218.4 538.7 1224.2 538.7 1229.2 538.8C1234.2 538.9 1239 538.6 1244.1 538.8C1249.2 538.9 1255.3 538.7 1260 539.8C1264.7 540.8 1267.3 543.6 1272 545C1276.7 546.4 1282.7 547.1 1288 548C1293.3 548.9 1299.3 549.7 1304 550.4C1308.7 551.1 1312.2 551.7 1316 552C1319.8 552.3 1325.2 552 1327 552L1329.2 600.6L418 600.6Z" fill="#FF521B"/>
<path d="M420 560.4C420.3 560.4 421.1 560.2 422.1 560C423 559.9 426.2 559.5 428.3 559.2C430.4 558.8 433 558.6 434.9 557.9C436.9 557.3 438.4 557.2 439.9 555.5C441.5 553.7 442.8 549.4 444.1 547.1C445.3 544.9 446.3 543.2 447.4 542.2C448.5 541.1 449.5 540.6 450.7 540.9C452 541.2 453.5 542.2 454.9 543.8C456.3 545.4 457.6 548.5 459 550.5C460.4 552.4 461.4 554.6 463.2 555.5C465 556.3 467.3 556.1 469.8 555.9C472.3 555.7 475.6 555.1 478.1 554.2C480.6 553.3 483 551.9 484.8 550.5C486.6 549.1 487.6 547 488.9 545.9C490.2 544.8 492.5 544 492.7 544.1C492.8 544.2 493 546.5 493.1 548.6C493.1 550.6 490.3 573.6 493.5 577C496.7 580.5 518.1 577.2 519.6 577C521.2 576.9 520.7 575.3 521 573.9C521.3 572.5 520.7 570.3 521.3 568.7C521.9 567.2 523.2 566.1 524.6 564.6C526 563.1 527.7 561.3 529.6 559.6C531.6 557.9 533.8 556.1 536.3 554.6C538.7 553.1 541.8 551.7 544.6 550.5C547.3 549.2 549.4 548.2 552.9 547.1C556.4 546.1 561.5 544.8 565.6 544.3C569.8 543.7 573.3 543.7 577.7 543.7C582.1 543.6 587.3 543.8 592.1 544C597 544.2 601.4 544.6 606.6 544.9C611.8 545.1 617.8 545.3 623.5 545.5C629.1 545.7 635.1 545.9 640.3 546.1C645.5 546.3 651.5 546.7 654.8 546.7C658.1 546.7 659.8 546.9 662 546.1C664.2 545.3 666.2 543.4 668 541.8C669.8 540.3 671.4 538.4 672.9 537C674.3 535.7 675.8 534.2 676.5 533.7C677.2 533.1 677.6 532.3 678.3 532.8C679 533.4 681 536.1 682.5 538.2C684 540.3 685.7 543.7 687.3 545.5C688.9 547.3 690.5 548.8 692.1 549.1C693.7 549.4 695.3 548.7 696.9 547.3C698.6 545.9 700.2 543 701.8 540.6C703.4 538.3 705.3 535.3 706.6 533.4C707.9 531.5 709 529.8 709.6 529.2C710.2 528.6 710.7 528.1 711.4 528.6C712.1 529.1 713.3 531 714.4 532.8C715.5 534.6 717.2 538.1 718 539.4C718.9 540.7 719.8 541.9 720.4 541.8C721.1 541.8 722.4 539.5 723.5 538.8C724.5 538.2 725.4 537.4 726.5 537.9C727.6 538.4 728.8 540.5 730.1 541.8C731.4 543.2 732.8 545.2 734.3 546.1C735.8 546.9 737.3 547.1 739.1 546.9C740.9 546.7 742.9 545.2 745.1 544.9C747.3 544.5 750.4 545.3 752.4 544.9C754.4 544.5 755.6 542.6 757.2 542.5C758.8 542.3 759.9 543.9 762 544C764.1 544.1 767.3 542.7 770 543C772.7 543.3 775 544.9 778 545.6C781 546.3 784 546.9 788 547C792 547.1 796.3 546.4 802 546C807.7 545.6 815.3 544.9 822 544.4C828.7 543.9 835.3 543.7 842 543C848.7 542.3 855.3 540.6 862 540C868.7 539.4 875.3 539.5 882 539.6C888.7 539.7 895.3 539.9 902 540.4C908.7 540.9 915.3 541.6 922 542.4C928.7 543.2 935.3 544.1 942 545C948.7 545.9 955.3 547.1 962 548C968.7 548.9 975.3 549.6 982 550.4C988.7 551.2 995.3 552.2 1002 553C1008.7 553.8 1015.3 554.3 1022 555C1028.7 555.7 1035.3 556.3 1042 557C1048.7 557.7 1055.3 558.5 1062 559C1068.7 559.5 1076.3 559.8 1082 560C1087.7 560.2 1093.2 560.3 1096 560.1C1098.7 560 1099.6 558.7 1101.9 559.2C1104.2 559.6 1107.2 561.6 1109.9 562.6C1112.5 563.7 1115.8 565.4 1117.8 565.6C1119.8 565.8 1120.7 565.3 1121.8 563.6C1123 562 1123.9 559.2 1124.8 555.7C1125.7 552.2 1126.5 546.6 1127.3 542.7C1128.1 538.9 1129.1 534.5 1129.8 532.8C1130.4 531.2 1132.2 529.8 1132.3 529.8C1132.3 529.9 1134 532.6 1134.7 534.8C1135.5 536.9 1135.9 541 1136.7 542.7C1137.5 544.5 1138.2 545.5 1139.7 545.7C1141.2 546 1143.7 544.7 1145.7 544.2C1147.7 543.7 1149.3 543.4 1151.6 542.7C1154 542.1 1156.9 540.8 1159.6 540.3C1162.2 539.8 1165.1 539.8 1167.5 539.8C1170 539.7 1172.3 539.9 1174.5 539.8C1176.7 539.6 1178.6 538.3 1180.5 538.8C1182.3 539.3 1183.8 541.4 1185.4 542.7C1187.1 544.1 1188.8 546.3 1190.4 546.7C1192.1 547.1 1193.6 545.2 1195.4 545.2C1197.2 545.2 1199 546.2 1201.3 546.7C1203.7 547.2 1206.3 547.9 1209.3 548.2C1212.3 548.5 1215.9 548.7 1219.2 548.7C1222.6 548.7 1225.9 548.3 1229.2 548.2C1232.5 548.1 1235.8 548.1 1239.1 548.2C1242.4 548.4 1245.6 548.8 1249.1 549.2C1252.5 549.6 1255.5 549.9 1260 550.7C1264.5 551.5 1270.7 553 1276 554C1281.3 555 1286.7 556.2 1292 557C1297.3 557.8 1302.2 558.7 1308 559C1313.8 559.3 1323.8 559 1327 559L1329.2 600.6L418 600.6Z" fill="#E23604"/>
<path d="M420 569.2C420.3 569.1 421.1 568.8 422.1 568.7C423 568.6 426.2 568.5 428.3 568.3C430.4 568.1 433 567.8 434.9 567.5C436.9 567.1 438.4 567.3 439.9 566.2C441.5 565.2 442.7 562.9 444.1 561.3C445.5 559.6 447.5 556.4 448.2 556.3C448.9 556.1 450.2 558.2 451.6 559.6C452.9 561 454.9 563.1 456.5 564.6C458.2 566.1 460.2 567.9 461.5 568.7C462.9 569.6 463.5 570.1 464.8 570C466.2 569.8 467.9 568.6 469.8 567.9C471.8 567.2 474.9 566.4 476.5 565.8C478.1 565.3 478.8 564.1 480 564.6C481.1 565.1 482.8 566.4 483.1 568.7C483.4 571.1 478.6 587.1 483.1 589.5C487.6 591.9 519.8 589.7 521.7 589.5C523.6 589.3 521.7 587.1 522.1 585.3C522.6 583.5 523.2 580.6 524.2 578.7C525.2 576.8 526.8 575.5 528 573.7C529.1 571.9 529.9 569.7 531.3 567.9C532.7 566.1 534.3 564.3 536.3 562.9C538.2 561.5 540.4 560.6 542.9 559.6C545.4 558.6 547.4 557.9 551.2 556.7C555 555.4 561.2 553 565.6 552.1C570.1 551.2 573.3 551.5 577.7 551.5C582.1 551.5 587.3 551.9 592.1 552.1C597 552.3 601.4 552.5 606.6 552.7C611.8 552.8 617.8 552.8 623.5 552.9C629.1 553 635.1 553.1 640.3 553.3C645.5 553.5 651.5 553.8 654.8 553.9C658.1 554 659.8 554.5 662 554.1C664.2 553.7 666.2 552.5 668 551.5C669.8 550.4 671.4 549 672.9 547.9C674.3 546.8 675.7 545.4 676.5 544.9C677.2 544.3 677.5 543.5 678.3 544C679 544.5 680.5 546.6 681.9 548.5C683.3 550.3 685 553.6 686.7 555.1C688.4 556.6 690.3 557.5 692.1 557.5C693.9 557.5 695.8 556.3 697.5 555.1C699.3 553.9 700.8 552.1 702.4 550.3C704 548.5 705.9 545.7 707.2 544.3C708.5 542.8 709.5 541.7 710.2 541.2C710.9 540.8 711.4 540.7 712 541.2C712.6 541.8 713.9 543.9 715 545.5C716.1 547.1 717.8 550 718.6 550.9C719.5 551.8 720.1 552.3 721 552.1C721.9 551.9 723 550.2 724.1 549.7C725.1 549.1 726 548.4 727.1 548.8C728.2 549.2 729.4 551.1 730.7 552.1C732 553 733.5 554 734.9 554.5C736.3 555 737.4 555.1 739.1 554.9C740.8 554.7 742.9 553.6 745.1 553.3C747.3 553 750.4 553.6 752.4 553.3C754.4 553 755.6 551.1 757.2 551.2C758.8 551.4 759.5 553.7 762 554C764.5 554.3 769.7 552.8 774 553C778.3 553.2 783.3 554.8 788 555C792.7 555.2 796.3 554.3 802 554C807.7 553.7 815.3 553.3 822 553C828.7 552.7 835.3 552.7 842 552C848.7 551.3 855.3 549.6 862 549C868.7 548.4 875.3 548.4 882 548.4C888.7 548.4 895.3 548.6 902 549C908.7 549.4 915.3 550 922 551C928.7 552 935.3 553.8 942 555C948.7 556.2 955.3 556.8 962 558C968.7 559.2 975.3 560.8 982 562C988.7 563.2 995.3 564 1002 565C1008.7 566 1015.3 567.2 1022 568C1028.7 568.8 1035.3 569.2 1042 570C1048.7 570.8 1055.3 571.8 1062 572.6C1068.7 573.4 1076.7 574.5 1082 575C1087.3 575.5 1092.1 575.7 1094 575.6C1095.9 575.5 1096.1 574.7 1098 574.6C1099.8 574.4 1103.4 574 1105.9 574.6C1108.4 575.1 1110.7 577 1112.9 578C1115 579 1117.2 580.6 1118.8 580.5C1120.5 580.4 1121.7 579.4 1122.8 577.5C1123.9 575.7 1124.5 572.9 1125.3 569.6C1126.1 566.3 1126.9 561.3 1127.8 557.7C1128.6 554 1129.6 549.4 1130.3 547.7C1130.9 546.1 1132.7 544.7 1132.7 544.7C1132.8 544.8 1134.5 547.6 1135.2 549.7C1136 551.8 1136.6 556 1137.2 557.2C1137.8 558.3 1138.4 558.6 1139.7 558.7C1141 558.7 1143.4 558.1 1145.7 557.7C1148 557.2 1151 556.6 1153.6 556.2C1156.3 555.7 1158.9 554.9 1161.6 555C1164.2 555.1 1166.9 556.6 1169.5 556.7C1172.2 556.7 1175.6 555.2 1177.5 555.2C1179.4 555.2 1180.3 555.4 1181.5 556.7C1182.6 557.9 1183.5 560.7 1184.4 562.6C1185.4 564.5 1186.5 567.1 1187.4 568.1C1188.4 569.1 1189.5 569.3 1190.4 568.6C1191.3 567.9 1192.1 565.2 1192.9 563.6C1193.7 562.1 1194.3 560.1 1195.4 559.2C1196.5 558.2 1197.5 558.2 1199.4 558.2C1201.2 558.1 1206 558.4 1209.3 558.7C1212.6 558.9 1215.9 559.6 1219.2 559.6C1222.6 559.7 1225.9 559.2 1229.2 559.2C1232.5 559.1 1235.8 559.1 1239.1 559.2C1242.4 559.2 1245.6 559.2 1249.1 559.6C1252.5 560.1 1255.5 560.6 1260 561.6C1264.5 562.6 1270.7 564.5 1276 565.6C1281.3 566.7 1286.7 567.3 1292 568C1297.3 568.7 1302.2 569.5 1308 569.6C1313.8 569.7 1323.8 568.6 1327 568.4L1329.2 600.6L418 600.6Z" fill="#BA2703"/>
<path d="M528.8 598C529.8 597.1 532.9 594.2 534.6 592.8C536.3 591.4 537.4 591 538.7 589.5C540.1 588 541.1 585.2 542.9 583.7C544.7 582.2 547.3 581.5 549.5 580.4C551.8 579.3 554.1 577.9 556.2 577C558.3 576.1 561.3 575.3 562 575C562.7 574.6 562.5 574 563.2 573.8C564 573.5 567.6 572.5 570.5 572C573.3 571.5 575.7 570.9 580.1 570.8C584.5 570.6 596.2 570.6 604.2 570.5C612.2 570.5 620.2 570.5 628.3 570.5C636.3 570.6 645.5 570.7 652.4 570.8C659.2 570.8 665.9 570.5 669.2 570.8C672.6 571 673.3 572.2 676.5 572.6C679.7 573 684.5 573.1 688.5 573.2C692.5 573.2 697.7 573.2 700.6 572.8C703.4 572.4 705 571.2 706.6 570.8C708.2 570.3 708.8 570.1 710.2 570.2C711.6 570.3 712.8 571.2 715 571.4C717.3 571.6 722.4 571.6 724.7 571.4C726.9 571.2 727.5 570.2 729.5 570.2C731.5 570.1 733.9 570.9 736.7 571C739.5 571.1 743.3 570.9 746.3 570.8C749.4 570.6 752.2 570.3 754.8 570.2C757.4 570 758.7 569.9 762 570C765.3 570.1 775.3 570.6 782 570.6C788.7 570.6 795.3 570.1 802 570C808.7 569.9 815.3 570.1 822 570C828.7 569.9 835.3 569.8 842 569.6C848.7 569.4 855.3 569.1 862 569C868.7 568.9 875.3 568.6 882 569C888.7 569.4 895.3 570.4 902 571.6C908.7 572.8 915.3 574.3 922 576C928.7 577.7 935.3 580 942 582C948.7 584 955.3 586 962 588C968.7 590 976.7 592.3 982 594C987.3 595.7 992 597.3 994 598L994 600.6L528.8 600.6Z" fill="#8B0000"/>
<path d="M1124.8 597.9C1125.4 596.2 1127.1 591.2 1128.3 587.5C1129.4 583.8 1130.8 578.3 1131.8 575.6C1132.7 572.8 1134.2 569.6 1134.2 569.6C1134.2 569.6 1135.6 571.6 1135.7 573.6C1135.8 575.5 1135.7 593.9 1135.7 597.9L1135.7 600.6L1124.8 600.6Z" fill="#8B0000"/>
<path d="M1136.7 597.9C1136.9 596 1137.2 587.7 1137.5 586.3C1137.8 584.9 1138.3 584.3 1139.7 584C1141.1 583.7 1146.3 583.3 1149.6 583.3C1153 583.3 1156.9 583.5 1159.6 584C1162.2 584.5 1164.6 584 1165.6 586.3C1166.5 588.6 1165.6 596 1165.6 597.9L1165.6 600.6L1136.7 600.6Z" fill="#8B0000"/>
<path d="M1199.9 597.9C1199.9 596.2 1199.7 589.2 1200.4 587.5C1201 585.8 1202.5 587 1204.3 587C1206.1 587 1211.3 587.1 1214.3 587.5C1217.3 587.9 1220.1 589.6 1222.2 589.5C1224.4 589.3 1225.7 586.8 1227.2 586.5C1228.7 586.2 1229.5 587.7 1231.2 587.5C1232.8 587.3 1235.1 585.7 1237.1 585.5C1239.1 585.2 1241.1 585.6 1243.1 586C1245.1 586.4 1247.1 587.2 1249.1 588C1251.1 588.7 1253.2 589.6 1255 590.5C1256.9 591.3 1257.8 591.7 1260 593C1262.2 594.2 1266.7 597.2 1268 598L1268 600.6L1199.9 600.6Z" fill="#8B0000"/>
<path d="M445.3 598L445.3 586.5L451.6 586.5L451.6 574L480 574L480 561.2L490 561.2L490 548.6L508.2 548.6L508.2 561.2L517.6 561.2L517.6 574L521 574L521 586.5L524 586.5L524 598Z" fill="#000"/>
<path d="M672.9 598L672.9 586.5L682.5 586.5L682.5 598Z" fill="#000"/>
<path d="M707.6 598L707.6 586.5L723.5 586.5L723.5 598Z" fill="#000"/>
<path d="M1131 598L1131 573.8L1137.5 573.8L1137.5 586.4L1200.3 586.4L1200.3 598Z" fill="#000"/>
</g>
</defs>
<text x="856" y="95.4" font-size="59" text-anchor="middle" textLength="111" lengthAdjust="spacingAndGlyphs" style="stroke:#fff;stroke-width:2.2px">ANN</text>
<g transform="translate(0 0)">
<text x="583" y="162.8" font-size="36.8" textLength="583" lengthAdjust="spacingAndGlyphs">f.e20.F2000.f09_f09.192.001 (yrs 2-6)</text>
<text x="417.6" y="216.2" font-size="30.8" textLength="115" lengthAdjust="spacingAndGlyphs" class="h">Specific</text>
<text x="548.6" y="216.2" font-size="30.8" textLength="126" lengthAdjust="spacingAndGlyphs" class="h">humidity</text>
<text x="1330.2" y="216.2" font-size="30.8" text-anchor="end" textLength="73.5" lengthAdjust="spacingAndGlyphs" class="h">g/kg</text>
<use href="#humid"/>
<rect class="ax" x="420" y="245.6" width="907.2" height="353" stroke-width="3.3"/>
<path class="ax" d="M420 245.6V224.8M420 598.6V619.6M571.7 245.6V224.8M571.7 598.6V619.6M723.5 245.6V224.8M723.5 598.6V619.6M875.2 245.6V224.8M875.2 598.6V619.6M1026.9 245.6V224.8M1026.9 598.6V619.6M1178.6 245.6V224.8M1178.6 598.6V619.6M420 245.6H399.1M420 296.3H399.1M420 346.5H399.1M420 447.3H399.1M420 523H399.1M420 598.6H399.1M1327.2 274.2H1348.2M1327.2 405.4H1348.2" stroke-width="3.3" stroke-linecap="round"/>
<path class="ax" d="M495.9 245.6V234.6M495.9 598.6V610M647.6 245.6V234.6M647.6 598.6V610M799.3 245.6V234.6M799.3 598.6V610M951 245.6V234.6M951 598.6V610M1102.8 245.6V234.6M1102.8 598.6V610M1254.5 245.6V234.6M1254.5 598.6V610" stroke-width="1.7"/>
<text x="383.6" y="255.1" font-size="27" text-anchor="end" textLength="46.5" lengthAdjust="spacingAndGlyphs" class="h">300</text>
<text x="383.6" y="305.8" font-size="27" text-anchor="end" textLength="46.5" lengthAdjust="spacingAndGlyphs" class="h">400</text>
<text x="383.6" y="356" font-size="27" text-anchor="end" textLength="46.5" lengthAdjust="spacingAndGlyphs" class="h">500</text>
<text x="383.6" y="456.8" font-size="27" text-anchor="end" textLength="46.5" lengthAdjust="spacingAndGlyphs" class="h">700</text>
<text x="383.6" y="532.5" font-size="27" text-anchor="end" textLength="46.5" lengthAdjust="spacingAndGlyphs" class="h">850</text>
<text x="383.6" y="608.1" font-size="27" text-anchor="end" textLength="59.5" lengthAdjust="spacingAndGlyphs" class="h">1000</text>
<text x="1363.3" y="283.7" font-size="27" textLength="14.6" lengthAdjust="spacingAndGlyphs" class="h">8</text>
<text x="1363.3" y="414.9" font-size="27" textLength="14.6" lengthAdjust="spacingAndGlyphs" class="h">4</text>
<text x="420" y="654.8" font-size="27" text-anchor="middle" textLength="15.2" lengthAdjust="spacingAndGlyphs" class="h">0</text>
<text x="571.7" y="654.8" font-size="27" text-anchor="middle" textLength="45.5" lengthAdjust="spacingAndGlyphs" class="h">60E</text>
<text x="723.5" y="654.8" font-size="27" text-anchor="middle" textLength="60.5" lengthAdjust="spacingAndGlyphs" class="h">120E</text>
<text x="875.2" y="654.8" font-size="27" text-anchor="middle" textLength="45" lengthAdjust="spacingAndGlyphs" class="h">180</text>
<text x="1026.9" y="654.8" font-size="27" text-anchor="middle" textLength="65" lengthAdjust="spacingAndGlyphs" class="h">120W</text>
<text x="1178.6" y="654.8" font-size="27" text-anchor="middle" textLength="49.5" lengthAdjust="spacingAndGlyphs" class="h">60W</text>
<text x="298.8" y="564" font-size="40.6" textLength="171" lengthAdjust="spacingAndGlyphs" class="h2" transform="rotate(-90 298.8 564)">Pressure</text>
<text x="298.8" y="373" font-size="40.6" textLength="94" lengthAdjust="spacingAndGlyphs" class="h2" transform="rotate(-90 298.8 373)">(mb)</text>
<text x="1436.3" y="539.5" font-size="40.6" textLength="124" lengthAdjust="spacingAndGlyphs" class="h2" transform="rotate(-90 1436.3 539.5)">Height</text>
<text x="1436.3" y="396.6" font-size="40.6" textLength="93" lengthAdjust="spacingAndGlyphs" class="h2" transform="rotate(-90 1436.3 396.6)">(km)</text>
<text x="703.7" y="674.6" font-size="23" textLength="38.5" lengthAdjust="spacingAndGlyphs" class="h0">MIN</text>
<text x="754.5" y="674.6" font-size="23" textLength="18" lengthAdjust="spacingAndGlyphs" class="h0">=</text>
<text x="807" y="674.6" font-size="23" textLength="51" lengthAdjust="spacingAndGlyphs" class="h0">0.13</text>
<text x="880.5" y="674.6" font-size="23" textLength="44.5" lengthAdjust="spacingAndGlyphs" class="h0">MAX</text>
<text x="937" y="674.6" font-size="23" textLength="18" lengthAdjust="spacingAndGlyphs" class="h0">=</text>
<text x="979.5" y="674.6" font-size="23" textLength="64.5" lengthAdjust="spacingAndGlyphs" class="h0">18.29</text>
<rect x="425" y="696.8" width="56.1" height="14" fill="#00008B" stroke="#000" stroke-width="1.5"/>
<rect x="481.1" y="696.8" width="56.1" height="14" fill="#001CBA" stroke="#000" stroke-width="1.5"/>
<rect x="537.1" y="696.8" width="56.1" height="14" fill="#0030E0" stroke="#000" stroke-width="1.5"/>
<rect x="593.2" y="696.8" width="56.1" height="14" fill="#1A50FF" stroke="#000" stroke-width="1.5"/>
<rect x="649.2" y="696.8" width="56.1" height="14" fill="#4076FF" stroke="#000" stroke-width="1.5"/>
<rect x="705.3" y="696.8" width="56.1" height="14" fill="#82AAFF" stroke="#000" stroke-width="1.5"/>
<rect x="761.4" y="696.8" width="56.1" height="14" fill="#B4CDFF" stroke="#000" stroke-width="1.5"/>
<rect x="817.4" y="696.8" width="56.1" height="14" fill="#D7EBFF" stroke="#000" stroke-width="1.5"/>
<rect x="873.5" y="696.8" width="56.1" height="14" fill="#FFE9D5" stroke="#000" stroke-width="1.5"/>
<rect x="929.6" y="696.8" width="56.1" height="14" fill="#FFCCB1" stroke="#000" stroke-width="1.5"/>
<rect x="985.6" y="696.8" width="56.1" height="14" fill="#FFA983" stroke="#000" stroke-width="1.5"/>
<rect x="1041.7" y="696.8" width="56.1" height="14" fill="#FE7942" stroke="#000" stroke-width="1.5"/>
<rect x="1097.8" y="696.8" width="56.1" height="14" fill="#FF521B" stroke="#000" stroke-width="1.5"/>
<rect x="1153.8" y="696.8" width="56.1" height="14" fill="#E23604" stroke="#000" stroke-width="1.5"/>
<rect x="1209.9" y="696.8" width="56.1" height="14" fill="#BA2703" stroke="#000" stroke-width="1.5"/>
<rect x="1265.9" y="696.8" width="56.1" height="14" fill="#8B0000" stroke="#000" stroke-width="1.5"/>
<text x="481.1" y="736.1" font-size="23" text-anchor="middle" textLength="12" lengthAdjust="spacingAndGlyphs" class="h0">1</text>
<text x="593.2" y="736.1" font-size="23" text-anchor="middle" textLength="13" lengthAdjust="spacingAndGlyphs" class="h0">3</text>
<text x="705.3" y="736.1" font-size="23" text-anchor="middle" textLength="13" lengthAdjust="spacingAndGlyphs" class="h0">5</text>
<text x="817.4" y="736.1" font-size="23" text-anchor="middle" textLength="13" lengthAdjust="spacingAndGlyphs" class="h0">7</text>
<text x="929.6" y="736.1" font-size="23" text-anchor="middle" textLength="13" lengthAdjust="spacingAndGlyphs" class="h0">9</text>
<text x="1041.7" y="736.1" font-size="23" text-anchor="middle" textLength="21" lengthAdjust="spacingAndGlyphs" class="h0">11</text>
<text x="1153.8" y="736.1" font-size="23" text-anchor="middle" textLength="26" lengthAdjust="spacingAndGlyphs" class="h0">13</text>
<text x="1265.9" y="736.1" font-size="23" text-anchor="middle" textLength="26" lengthAdjust="spacingAndGlyphs" class="h0">16</text>
</g>
<g transform="translate(0 648)">
<text x="583" y="162.8" font-size="36.8" textLength="583" lengthAdjust="spacingAndGlyphs">f.e20.F2000.f09_f09.195.001 (yrs 2-6)</text>
<text x="417.6" y="216.2" font-size="30.8" textLength="115" lengthAdjust="spacingAndGlyphs" class="h">Specific</text>
<text x="548.6" y="216.2" font-size="30.8" textLength="126" lengthAdjust="spacingAndGlyphs" class="h">humidity</text>
<text x="1330.2" y="216.2" font-size="30.8" text-anchor="end" textLength="73.5" lengthAdjust="spacingAndGlyphs" class="h">g/kg</text>
<use href="#humid"/>
<rect class="ax" x="420" y="245.6" width="907.2" height="353" stroke-width="3.3"/>
<path class="ax" d="M420 245.6V224.8M420 598.6V619.6M571.7 245.6V224.8M571.7 598.6V619.6M723.5 245.6V224.8M723.5 598.6V619.6M875.2 245.6V224.8M875.2 598.6V619.6M1026.9 245.6V224.8M1026.9 598.6V619.6M1178.6 245.6V224.8M1178.6 598.6V619.6M420 245.6H399.1M420 296.3H399.1M420 346.5H399.1M420 447.3H399.1M420 523H399.1M420 598.6H399.1M1327.2 274.2H1348.2M1327.2 405.4H1348.2" stroke-width="3.3" stroke-linecap="round"/>
<path class="ax" d="M495.9 245.6V234.6M495.9 598.6V610M647.6 245.6V234.6M647.6 598.6V610M799.3 245.6V234.6M799.3 598.6V610M951 245.6V234.6M951 598.6V610M1102.8 245.6V234.6M1102.8 598.6V610M1254.5 245.6V234.6M1254.5 598.6V610" stroke-width="1.7"/>
<text x="383.6" y="255.1" font-size="27" text-anchor="end" textLength="46.5" lengthAdjust="spacingAndGlyphs" class="h">300</text>
<text x="383.6" y="305.8" font-size="27" text-anchor="end" textLength="46.5" lengthAdjust="spacingAndGlyphs" class="h">400</text>
<text x="383.6" y="356" font-size="27" text-anchor="end" textLength="46.5" lengthAdjust="spacingAndGlyphs" class="h">500</text>
<text x="383.6" y="456.8" font-size="27" text-anchor="end" textLength="46.5" lengthAdjust="spacingAndGlyphs" class="h">700</text>
<text x="383.6" y="532.5" font-size="27" text-anchor="end" textLength="46.5" lengthAdjust="spacingAndGlyphs" class="h">850</text>
<text x="383.6" y="608.1" font-size="27" text-anchor="end" textLength="59.5" lengthAdjust="spacingAndGlyphs" class="h">1000</text>
<text x="1363.3" y="283.7" font-size="27" textLength="14.6" lengthAdjust="spacingAndGlyphs" class="h">8</text>
<text x="1363.3" y="414.9" font-size="27" textLength="14.6" lengthAdjust="spacingAndGlyphs" class="h">4</text>
<text x="420" y="654.8" font-size="27" text-anchor="middle" textLength="15.2" lengthAdjust="spacingAndGlyphs" class="h">0</text>
<text x="571.7" y="654.8" font-size="27" text-anchor="middle" textLength="45.5" lengthAdjust="spacingAndGlyphs" class="h">60E</text>
<text x="723.5" y="654.8" font-size="27" text-anchor="middle" textLength="60.5" lengthAdjust="spacingAndGlyphs" class="h">120E</text>
<text x="875.2" y="654.8" font-size="27" text-anchor="middle" textLength="45" lengthAdjust="spacingAndGlyphs" class="h">180</text>
<text x="1026.9" y="654.8" font-size="27" text-anchor="middle" textLength="65" lengthAdjust="spacingAndGlyphs" class="h">120W</text>
<text x="1178.6" y="654.8" font-size="27" text-anchor="middle" textLength="49.5" lengthAdjust="spacingAndGlyphs" class="h">60W</text>
<text x="298.8" y="564" font-size="40.6" textLength="171" lengthAdjust="spacingAndGlyphs" class="h2" transform="rotate(-90 298.8 564)">Pressure</text>
<text x="298.8" y="373" font-size="40.6" textLength="94" lengthAdjust="spacingAndGlyphs" class="h2" transform="rotate(-90 298.8 373)">(mb)</text>
<text x="1436.3" y="539.5" font-size="40.6" textLength="124" lengthAdjust="spacingAndGlyphs" class="h2" transform="rotate(-90 1436.3 539.5)">Height</text>
<text x="1436.3" y="396.6" font-size="40.6" textLength="93" lengthAdjust="spacingAndGlyphs" class="h2" transform="rotate(-90 1436.3 396.6)">(km)</text>
<text x="703.7" y="674.6" font-size="23" textLength="38.5" lengthAdjust="spacingAndGlyphs" class="h0">MIN</text>
<text x="754.5" y="674.6" font-size="23" textLength="18" lengthAdjust="spacingAndGlyphs" class="h0">=</text>
<text x="807" y="674.6" font-size="23" textLength="51" lengthAdjust="spacingAndGlyphs" class="h0">0.14</text>
<text x="880.5" y="674.6" font-size="23" textLength="44.5" lengthAdjust="spacingAndGlyphs" class="h0">MAX</text>
<text x="937" y="674.6" font-size="23" textLength="18" lengthAdjust="spacingAndGlyphs" class="h0">=</text>
<text x="979.5" y="674.6" font-size="23" textLength="64.5" lengthAdjust="spacingAndGlyphs" class="h0">18.23</text>
<rect x="425" y="696.8" width="56.1" height="14" fill="#00008B" stroke="#000" stroke-width="1.5"/>
<rect x="481.1" y="696.8" width="56.1" height="14" fill="#001CBA" stroke="#000" stroke-width="1.5"/>
<rect x="537.1" y="696.8" width="56.1" height="14" fill="#0030E0" stroke="#000" stroke-width="1.5"/>
<rect x="593.2" y="696.8" width="56.1" height="14" fill="#1A50FF" stroke="#000" stroke-width="1.5"/>
<rect x="649.2" y="696.8" width="56.1" height="14" fill="#4076FF" stroke="#000" stroke-width="1.5"/>
<rect x="705.3" y="696.8" width="56.1" height="14" fill="#82AAFF" stroke="#000" stroke-width="1.5"/>
<rect x="761.4" y="696.8" width="56.1" height="14" fill="#B4CDFF" stroke="#000" stroke-width="1.5"/>
<rect x="817.4" y="696.8" width="56.1" height="14" fill="#D7EBFF" stroke="#000" stroke-width="1.5"/>
<rect x="873.5" y="696.8" width="56.1" height="14" fill="#FFE9D5" stroke="#000" stroke-width="1.5"/>
<rect x="929.6" y="696.8" width="56.1" height="14" fill="#FFCCB1" stroke="#000" stroke-width="1.5"/>
<rect x="985.6" y="696.8" width="56.1" height="14" fill="#FFA983" stroke="#000" stroke-width="1.5"/>
<rect x="1041.7" y="696.8" width="56.1" height="14" fill="#FE7942" stroke="#000" stroke-width="1.5"/>
<rect x="1097.8" y="696.8" width="56.1" height="14" fill="#FF521B" stroke="#000" stroke-width="1.5"/>
<rect x="1153.8" y="696.8" width="56.1" height="14" fill="#E23604" stroke="#000" stroke-width="1.5"/>
<rect x="1209.9" y="696.8" width="56.1" height="14" fill="#BA2703" stroke="#000" stroke-width="1.5"/>
<rect x="1265.9" y="696.8" width="56.1" height="14" fill="#8B0000" stroke="#000" stroke-width="1.5"/>
<text x="481.1" y="736.1" font-size="23" text-anchor="middle" textLength="12" lengthAdjust="spacingAndGlyphs" class="h0">1</text>
<text x="593.2" y="736.1" font-size="23" text-anchor="middle" textLength="13" lengthAdjust="spacingAndGlyphs" class="h0">3</text>
<text x="705.3" y="736.1" font-size="23" text-anchor="middle" textLength="13" lengthAdjust="spacingAndGlyphs" class="h0">5</text>
<text x="817.4" y="736.1" font-size="23" text-anchor="middle" textLength="13" lengthAdjust="spacingAndGlyphs" class="h0">7</text>
<text x="929.6" y="736.1" font-size="23" text-anchor="middle" textLength="13" lengthAdjust="spacingAndGlyphs" class="h0">9</text>
<text x="1041.7" y="736.1" font-size="23" text-anchor="middle" textLength="21" lengthAdjust="spacingAndGlyphs" class="h0">11</text>
<text x="1153.8" y="736.1" font-size="23" text-anchor="middle" textLength="26" lengthAdjust="spacingAndGlyphs" class="h0">13</text>
<text x="1265.9" y="736.1" font-size="23" text-anchor="middle" textLength="26" lengthAdjust="spacingAndGlyphs" class="h0">16</text>
</g>
<g transform="translate(0 1296)">
<text x="418" y="162.8" font-size="36.8" textLength="913" lengthAdjust="spacingAndGlyphs">f.e20.F2000.f09_f09.192.001 - f.e20.F2000.f09_f09.195.001</text>
<text x="417.6" y="216.2" font-size="30.8" textLength="115" lengthAdjust="spacingAndGlyphs" class="h">Specific</text>
<text x="548.6" y="216.2" font-size="30.8" textLength="126" lengthAdjust="spacingAndGlyphs" class="h">humidity</text>
<text x="1330.2" y="216.2" font-size="30.8" text-anchor="end" textLength="73.5" lengthAdjust="spacingAndGlyphs" class="h">g/kg</text>
<g clip-path="url(#clipbox)">
<rect x="420" y="245.6" width="907.2" height="353" fill="#FFE9D5"/>
<path d="M418 243L512 243L512 247L508 259L505 275L501 295L502 311L504 335L506 365L508 405L508.6 414L508 434L507.6 464L508 494L509 524L510 548.4L510 600L418 600Z" fill="#D7EBFF"/>
<path d="M524 330C525.5 326.5 528.3 325.5 530 326C531.7 326.5 533.1 326.5 534 333C534.9 339.5 535.1 354.3 535.6 365C536.1 375.7 536.9 388.8 537 397C537.1 405.2 536.7 407.8 536 414C535.3 420.2 534 427.3 533 434C532 440.7 530.6 447.3 530 454C529.4 460.7 529.4 467.3 529.6 474C529.8 480.7 530.3 487.3 531 494C531.7 500.7 533 507.7 534 514C535 520.3 536.3 528.3 537 532C537.7 535.7 538.7 534 538 536C537.3 538 534.1 541 533 544C531.9 547 531.6 550.7 531.6 554C531.6 557.3 531.9 560.7 533 564C534.1 567.3 536.2 571 538 574C539.8 577 542.3 579.3 544 582C545.7 584.7 546.9 587 548 590C549.1 593 555.7 598.3 550.4 600C545.1 601.7 521.9 606.5 516 600C510.1 593.5 515.3 569.7 515 561C514.7 552.3 514.3 554.2 514 548C513.7 541.8 513 532.3 513 524C513 515.7 513.5 506.3 514 498C514.5 489.7 515.3 483 516 474C516.7 465 517.3 454 518 444C518.7 434 519.3 421.8 520 414C520.7 406.2 522.1 405.2 522.4 397C522.7 388.8 522.2 373.3 522 365C521.8 356.7 520.7 352.8 521 347C521.3 341.2 522.5 333.5 524 330Z" fill="#D7EBFF"/>
<path d="M541 536L546 535L547 546L544 550L542 544Z" fill="#D7EBFF"/>
<path d="M643.6 243L644 247L651 257L658 273L664 288L669 296.6L673 297.4L677 290L680 279L682.4 267L681.6 247L681.6 243Z" fill="#D7EBFF"/>
<path d="M683 243L683 247L684 285L686 321L688 341L691 344L694 331L698 305L702 277L706.4 247L706.4 243Z" fill="#D7EBFF"/>
<path d="M731 243L731 247L733 262L738 269L740 285L742 305L744 323L748 331L751 334L758 325L762 313L763.6 297L764.4 275L764 247L764 243Z" fill="#D7EBFF"/>
<path d="M607 397C607.7 392.2 610.6 387.9 612 385C613.4 382.1 614.3 379.1 615.6 379.4C616.9 379.7 618.6 383.7 620 387C621.4 390.3 623.3 395.8 624 399C624.7 402.2 623.7 401.8 624 406C624.3 410.2 625.5 417.7 626 424C626.5 430.3 626.6 437.7 627 444C627.4 450.3 627.7 457.3 628.4 462C629.1 466.7 629.7 470.2 631 472C632.3 473.8 634.7 472.7 636 473C637.3 473.3 638.2 469.8 639 474C639.8 478.2 641 490.7 641 498C641 505.3 639.5 512 639 518C638.5 524 638.7 530.2 638 534C637.3 537.8 636 540.3 635 541C634 541.7 632.8 539.8 632 538C631.2 536.2 630.7 534 630 530C629.3 526 629.3 517.7 628 514C626.7 510.3 623.3 510.7 622 508C620.7 505.3 620.5 503 620 498C619.5 493 619.5 484.3 619 478C618.5 471.7 617.8 465.7 617 460C616.2 454.3 615.2 449 614 444C612.8 439 611 435 610 430C609 425 608.5 419.5 608 414C607.5 408.5 606.3 401.8 607 397Z" fill="#D7EBFF"/>
<path d="M736 397L739 387L742.4 382.6L746 386L750 388L754.4 397L752 407L748.4 418.6L745 416L741 415L737.6 405Z" fill="#D7EBFF"/>
<path d="M706.4 446L708 445L709.4 460L709 474L707.4 480L706.6 464Z" fill="#D7EBFF"/>
<path d="M719.4 560L720.6 559L721 570L719.8 570Z" fill="#D7EBFF"/>
<path d="M684 574L689 573L689.6 582L687 588.4L682.4 586.4Z" fill="#D7EBFF"/>
<path d="M998 256L1001 255L1002 263L1003.4 271L1001.6 278L998.4 276L997.2 267Z" fill="#D7EBFF"/>
<path d="M985 449L987 444L990 442.6L994 445L996 449Z" fill="#D7EBFF"/>
<path d="M985.6 447.6L989 443L992 443L995.6 447.6L992 452L989 453.6Z" fill="#D7EBFF"/>
<path d="M1100 242L1100 247L1102 255L1104 261L1106 271L1112 279L1118 284L1122 288L1125 283L1127.6 279L1129 305L1131 329L1133 357L1133.6 385L1132 415L1130 437L1129.6 450L1132 462L1134.4 469.6L1137 464L1139 454L1141 442L1144 433L1152 429L1158 433L1164 437L1172 441L1180 441.6L1186 440L1191 445L1193 454L1194 470L1195 474L1200 481L1206 478L1211 475.6L1216 479L1222 479L1230 474L1231 460L1232 444L1233 426L1235 410L1237 405L1240 389L1243 375L1245 357L1247 341L1251 330.6L1258 323L1263 318L1270 319L1274 307L1279 297L1283 292L1288 290L1292 284L1296 282L1301 288L1307 287L1312 295L1315 303L1317 320L1312 325L1304 330L1299 335L1294 343L1289 349L1285 361L1282 377L1280.4 397L1283 411L1288 423L1294 431L1301 437L1305 439L1310 435L1316 431L1329 427.6L1329 242Z" fill="#D7EBFF"/>
<path d="M1303 472C1303.3 469 1304.8 467.4 1306 466C1307.2 464.6 1308 463.8 1310 463.6C1312 463.4 1314.8 464.9 1318 465C1321.2 465.1 1327.2 458.3 1329 464C1330.8 469.7 1330.8 492.7 1329 499C1327.2 505.3 1321.2 501.4 1318 501.6C1314.8 501.8 1312 500.9 1310 500C1308 499.1 1307 498.7 1306 496C1305 493.3 1304.5 488 1304 484C1303.5 480 1302.7 475 1303 472Z" fill="#D7EBFF"/>
<path d="M1283.6 600L1286 586L1290 576L1296 571L1304 570L1316 572L1329 571L1329 600Z" fill="#D7EBFF"/>
<path d="M1164 574L1166 562L1169 558L1175 557L1181 554L1184 546L1188 537L1191 546L1193 560L1196 574L1199.4 588L1168.4 588L1168.4 570L1166.4 575Z" fill="#D7EBFF"/>
<path d="M1207 594L1209 585L1211.6 583L1214 587L1211 595Z" fill="#D7EBFF"/>
<path d="M1201 599L1206 592L1208.4 599Z" fill="#D7EBFF"/>
<path d="M444 347L447 340L452 339L456 347L453 358L449 365L445 360Z" fill="#B4CDFF"/>
<path d="M454 560L459 548L464.4 524L467 542L469 560L470.4 575L457 575L455.6 566Z" fill="#B4CDFF"/>
<path d="M517.4 561L521 557L522.4 568L524.4 587L520 587L520 573.6L517 573.6Z" fill="#B4CDFF"/>
<path d="M426 599L432.4 587.6L436.8 599Z" fill="#B4CDFF"/>
<path d="M494.6 549L497 544.4L500.4 549Z" fill="#B4CDFF"/>
<path d="M1162 304L1168 304L1176 299.4L1184 303L1190 307L1193 317L1197 333L1203 335L1207 341L1208 355L1207 371L1204 379L1200 378L1196 383L1191 399L1184 407L1178 411.4L1172 407.4L1164 399L1158 383L1155 369L1154 347L1156 325L1159 311Z" fill="#B4CDFF"/>
<path d="M483 243L483.6 247L487 266L492 260L499 258L502 247L502.4 243Z" fill="#FFE9D5"/>
<path d="M418 419C418.7 393.2 420 418 422 416C424 414 427 409.2 430 407C433 404.8 437.5 402.7 440 403C442.5 403.3 443.2 407.7 445 409C446.8 410.3 449.2 409 451 411C452.8 413 455.3 416.5 456 421C456.7 425.5 455.7 431.8 455 438C454.3 444.2 453 452.3 452 458C451 463.7 449.5 467 449 472C448.5 477 448.5 482.3 449 488C449.5 493.7 451.2 500.3 452 506C452.8 511.7 454 516 454 522C454 528 452.7 535.7 452 542C451.3 548.3 450.1 554.7 450 560C449.9 565.3 451.3 570.5 451.6 574C451.9 577.5 452.5 579.3 451.6 581C450.7 582.7 447.9 584.7 446 584C444.1 583.3 442.3 579 440 577C437.7 575 435 573 432 572C429 571 424.3 571.2 422 571C419.7 570.8 418.7 596.3 418 571C417.3 545.7 417.3 444.8 418 419Z" fill="#FFE9D5"/>
<path d="M473 470C473.7 466.3 475.5 460.5 477 460C478.5 459.5 480 463.3 482 467C484 470.7 487.5 476.8 489 482C490.5 487.2 490.8 491.3 491 498C491.2 504.7 490.6 516 490.4 522C490.2 528 489.6 529 489.6 534C489.6 539 490.3 547 490.4 552C490.5 557 492 562 490.4 564C488.8 566 482.5 567.7 480.6 564C478.7 560.3 479.8 549.7 479 542C478.2 534.3 476.9 525.3 476 518C475.1 510.7 474.1 504 473.6 498C473.1 492 473.1 486.7 473 482C472.9 477.3 472.3 473.7 473 470Z" fill="#FFE9D5"/>
<path d="M1237.6 267C1237.9 264.7 1238.8 261.6 1240 260C1241.2 258.4 1243.9 256.6 1245 257.4C1246.1 258.2 1246.1 262.6 1246.4 265C1246.7 267.4 1247.2 269.6 1247 272C1246.8 274.4 1246 278.2 1245 279.4C1244 280.6 1242.2 279.9 1241 279C1239.8 278.1 1238.6 276 1238 274C1237.4 272 1237.3 269.3 1237.6 267Z" fill="#FFE9D5"/>
<path d="M424.4 447C424.7 444.3 429.6 441.2 432 439C434.4 436.8 437.3 434 439 434C440.7 434 441.5 436.8 442.4 439C443.3 441.2 444.6 444.3 444.4 447C444.2 449.7 442.4 453.1 441 455C439.6 456.9 437.8 458.4 436 458.4C434.2 458.4 431.9 456.9 430 455C428.1 453.1 424.1 449.7 424.4 447Z" fill="#FFCCB1"/>
<path d="M418 517C418.7 509.2 420.5 516.8 422 516C423.5 515.2 425.3 513 427 512C428.7 511 430.2 509.5 432 510C433.8 510.5 436.5 514.4 438 515C439.5 515.6 439.8 512.9 441 513.6C442.2 514.3 443.9 515.6 445 519C446.1 522.4 447.3 528.8 447.6 534C447.9 539.2 447.4 545.3 447 550C446.6 554.7 446.3 558.8 445 562C443.7 565.2 441.2 568.3 439 569C436.8 569.7 434.8 567 432 566C429.2 565 424.3 563.5 422 563C419.7 562.5 418.7 570.7 418 563C417.3 555.3 417.3 524.8 418 517Z" fill="#FFCCB1"/>
<path d="M564 315.4C565.7 315.7 567.7 316.7 569 321C570.3 325.3 571 333.7 572 341C573 348.3 573.7 357 575 365C576.3 373 578.7 381.5 580 389C581.3 396.5 582 403.5 583 410C584 416.5 584.8 423.7 586 428C587.2 432.3 588.5 433.8 590 436C591.5 438.2 593.5 438.3 595 441C596.5 443.7 597.7 448.2 599 452C600.3 455.8 601.8 459.3 603 464C604.2 468.7 605.2 474.3 606 480C606.8 485.7 607.6 492.3 608 498C608.4 503.7 608.5 508 608.4 514C608.3 520 608 528 607.6 534C607.2 540 607.3 545.7 606 550C604.7 554.3 602 557.3 600 560C598 562.7 595.6 564 594 566C592.4 568 591.1 569 590.4 572C589.7 575 589.6 580.3 590 584C590.4 587.7 592.3 591.3 593 594C593.7 596.7 598.4 599 594.4 600C590.4 601 573.1 602.7 569 600C564.9 597.3 569.8 590 569.6 584C569.4 578 568.9 570.3 568 564C567.1 557.7 565.2 551.7 564 546C562.8 540.3 562.3 535.3 561 530C559.7 524.7 557.3 519.3 556 514C554.7 508.7 553.2 504.7 553 498C552.8 491.3 554.3 481.3 555 474C555.7 466.7 556.8 460.7 557 454C557.2 447.3 556.7 440.7 556 434C555.3 427.3 554 420.5 553 414C552 407.5 550.8 402.5 550 395C549.2 387.5 548.1 377.3 548 369C547.9 360.7 548.6 351.7 549.6 345C550.6 338.3 552.4 333.3 554 329C555.6 324.7 557.3 321.3 559 319C560.7 316.7 562.3 315.1 564 315.4Z" fill="#FFCCB1"/>
<path d="M650 522L654 513L659 509L663.6 505.6L665 522L667 538L667.6 554L665 568L663 578L662 586.4L667 584L668 600L649.6 600L654 593L659 586L658 574L652 568L649 558L648.6 538Z" fill="#FFCCB1"/>
<path d="M682 480C682.7 476.5 683.5 474.7 685 473C686.5 471.3 689.7 469.5 691 470C692.3 470.5 692.3 473 693 476C693.7 479 694 483.7 695 488C696 492.3 697.8 497 699 502C700.2 507 701.5 512.7 702 518C702.5 523.3 702.7 530.5 702 534C701.3 537.5 699.2 540.2 698 539C696.8 537.8 696 529.3 695 527C694 524.7 692.8 523.8 692 525C691.2 526.2 691 530.7 690 534C689 537.3 687.2 545 686 545C684.8 545 683.8 539.2 683 534C682.2 528.8 681.4 520.7 681 514C680.6 507.3 680.4 499.7 680.6 494C680.8 488.3 681.3 483.5 682 480Z" fill="#FFCCB1"/>
<path d="M717 470C717.7 466.8 718.8 463.8 720 463C721.2 462.2 722.8 462.5 724 465C725.2 467.5 726.3 472.5 727 478C727.7 483.5 728.2 490.7 728.4 498C728.6 505.3 728.4 516.5 728 522C727.6 527.5 726.8 528.8 726 531C725.2 533.2 724.2 534.8 723 535C721.8 535.2 720 534.2 719 532C718 529.8 717.5 527.7 717 522C716.5 516.3 716.2 504.7 716 498C715.8 491.3 715.8 486.7 716 482C716.2 477.3 716.3 473.2 717 470Z" fill="#FFCCB1"/>
<path d="M762 522L760 526L759.6 534L761 539L763 540L763 530Z" fill="#FFCCB1"/>
<path d="M873 397L880 385L884 373L887 357L890 341L894 331L898 326L906 321L914 314L920 311.6L925 315L929.6 321L932 331L935 342L941 337.4L948 342L956 347L963.6 349L966.4 359L970 373L974 385L979 395.4L983.6 397L979 398.6L976 404L973 416L970 432L967.6 448L966 462L965.6 472.4L974 480L984 488L991 492.4L1002 489.6L1012 487.6L1020 483.6L1026 478L1033 479.6L1039 473L1035 468.4L1028 468.4L1026 460L1023 434L1020 410L1019 397L1022 385L1027 377L1034 373.6L1042 372L1047 365L1051 359.6L1056 360L1061 366L1064.4 369L1070 362L1078 351L1086 346L1094 344.4L1100 348L1104 353L1110 359L1116 363L1120 360L1125 359.4L1126 373L1125 397L1123 419L1118 435L1112 445L1106 442L1104 440L1100 448L1092 457L1082 465L1074 469L1069.4 473L1071 484L1073 498L1082 503L1092 506L1104 505L1110 498L1116 491L1121 489L1124 492L1125.6 506L1126.4 522L1129 542L1134 542L1137 526L1140 512L1143.6 522L1145.6 532L1144 546L1143 564L1144 587L1137 587L1137 574L1134 560L1128.6 546L1127.6 564L1125 578L1122 582L1116 576L1110 570L1104 567L1096 564L1086 558L1076 552L1067 544L1058 543L1042 543L1026 542.4L1012 542L1000 543L989 540.4L982 544L975 548.4L970 548.4L962 547L954 547.6L946 547L940 549L935 546.4L931 536L926 530L923 522L918 519L911 514L904 508L898 510L892 514L886 519L883.4 523L887 531L892 539L896 547L902 556L906 561L908 573L905 584L903.6 600L860 600L862 586L860 578L858 573L860 564L863 554L866 542L866.4 532L862 525L858 514L853.6 498L854 474L853 458L850.6 447L856 435L860 425L863.6 422L868 428L869.6 440L871 448L875 453.4L881 453L885.4 448L883 437L879 423L876 407Z" fill="#FFCCB1"/>
<path d="M792.4 482L796 480L800 485L804 493L808 498L812 500L815 508L816.4 522L818 538L819 550L818 560L815 564.6L811.6 564L808 557L805 552L800 557L793 557.6L786 559L781 554L780 548L783 542L785 526L788 508L791 490Z" fill="#FFCCB1"/>
<path d="M789 599L792.4 589L795 595L796.4 599Z" fill="#FFCCB1"/>
<path d="M798 599L799 591L800.6 599Z" fill="#FFCCB1"/>
<path d="M761 530L763 534L761 538.4Z" fill="#FFCCB1"/>
<path d="M1147 474L1156 469L1162 478L1168 486L1173 488L1176 494L1179.6 498L1176 506L1170 514L1165 526L1160 538L1157 542L1152 534L1147 530L1145 522L1144 506L1145 488Z" fill="#FFCCB1"/>
<path d="M1202 526L1204 522L1208 527L1213 533L1218.4 536L1218 548L1212 551L1204 555L1201 548L1200 536Z" fill="#FFCCB1"/>
<path d="M1250 523L1254.4 518.4L1260 524L1259 535L1255 540L1250.4 537Z" fill="#FFCCB1"/>
<path d="M1265 454L1268 445L1272 443L1276 447L1280 458L1283 474L1285 494L1289 510L1293 522L1296 527.6L1304 527L1310 526L1316 523L1329 520.6L1329 563L1316 558L1306 552L1296 546L1288 541L1280 541L1273 537L1268 528L1264 514L1262 498L1262.4 478Z" fill="#FFCCB1"/>
<path d="M910 397C910.8 394.2 912.5 391.7 914 390C915.5 388.3 917.3 387 919 387C920.7 387 922.6 388.3 924 390C925.4 391.7 927.3 393.5 927.6 397C927.9 400.5 926.6 406.7 926 411C925.4 415.3 925.3 419 924 423C922.7 427 919.8 431.7 918 435C916.2 438.3 914.4 443.3 913 443C911.6 442.7 910.4 437 909.6 433C908.8 429 908.5 423.3 908.4 419C908.3 414.7 908.7 410.7 909 407C909.3 403.3 909.2 399.8 910 397Z" fill="#FFE9D5"/>
<path d="M430 548L436 547L439 543.6L442 548L439 551.6L435 549Z" fill="#FFA983"/>
<path d="M445.3 598L445.3 586.5L451.6 586.5L451.6 574L480 574L480 561.2L490 561.2L490 548.6L508.2 548.6L508.2 561.2L517.6 561.2L517.6 574L521 574L521 586.5L524 586.5L524 598Z" fill="#000"/>
<path d="M672.9 598L672.9 586.5L682.5 586.5L682.5 598Z" fill="#000"/>
<path d="M707.6 598L707.6 586.5L723.5 586.5L723.5 598Z" fill="#000"/>
<path d="M1131 598L1131 573.8L1137.5 573.8L1137.5 586.4L1200.3 586.4L1200.3 598Z" fill="#000"/>
</g>
<rect class="ax" x="420" y="245.6" width="907.2" height="353" stroke-width="3.3"/>
<path class="ax" d="M420 245.6V224.8M420 598.6V619.6M571.7 245.6V224.8M571.7 598.6V619.6M723.5 245.6V224.8M723.5 598.6V619.6M875.2 245.6V224.8M875.2 598.6V619.6M1026.9 245.6V224.8M1026.9 598.6V619.6M1178.6 245.6V224.8M1178.6 598.6V619.6M420 245.6H399.1M420 296.3H399.1M420 346.5H399.1M420 447.3H399.1M420 523H399.1M420 598.6H399.1M1327.2 274.2H1348.2M1327.2 405.4H1348.2" stroke-width="3.3" stroke-linecap="round"/>
<path class="ax" d="M495.9 245.6V234.6M495.9 598.6V610M647.6 245.6V234.6M647.6 598.6V610M799.3 245.6V234.6M799.3 598.6V610M951 245.6V234.6M951 598.6V610M1102.8 245.6V234.6M1102.8 598.6V610M1254.5 245.6V234.6M1254.5 598.6V610" stroke-width="1.7"/>
<text x="383.6" y="255.1" font-size="27" text-anchor="end" textLength="46.5" lengthAdjust="spacingAndGlyphs" class="h">300</text>
<text x="383.6" y="305.8" font-size="27" text-anchor="end" textLength="46.5" lengthAdjust="spacingAndGlyphs" class="h">400</text>
<text x="383.6" y="356" font-size="27" text-anchor="end" textLength="46.5" lengthAdjust="spacingAndGlyphs" class="h">500</text>
<text x="383.6" y="456.8" font-size="27" text-anchor="end" textLength="46.5" lengthAdjust="spacingAndGlyphs" class="h">700</text>
<text x="383.6" y="532.5" font-size="27" text-anchor="end" textLength="46.5" lengthAdjust="spacingAndGlyphs" class="h">850</text>
<text x="383.6" y="608.1" font-size="27" text-anchor="end" textLength="59.5" lengthAdjust="spacingAndGlyphs" class="h">1000</text>
<text x="1363.3" y="283.7" font-size="27" textLength="14.6" lengthAdjust="spacingAndGlyphs" class="h">8</text>
<text x="1363.3" y="414.9" font-size="27" textLength="14.6" lengthAdjust="spacingAndGlyphs" class="h">4</text>
<text x="420" y="654.8" font-size="27" text-anchor="middle" textLength="15.2" lengthAdjust="spacingAndGlyphs" class="h">0</text>
<text x="571.7" y="654.8" font-size="27" text-anchor="middle" textLength="45.5" lengthAdjust="spacingAndGlyphs" class="h">60E</text>
<text x="723.5" y="654.8" font-size="27" text-anchor="middle" textLength="60.5" lengthAdjust="spacingAndGlyphs" class="h">120E</text>
<text x="875.2" y="654.8" font-size="27" text-anchor="middle" textLength="45" lengthAdjust="spacingAndGlyphs" class="h">180</text>
<text x="1026.9" y="654.8" font-size="27" text-anchor="middle" textLength="65" lengthAdjust="spacingAndGlyphs" class="h">120W</text>
<text x="1178.6" y="654.8" font-size="27" text-anchor="middle" textLength="49.5" lengthAdjust="spacingAndGlyphs" class="h">60W</text>
<text x="298.8" y="564" font-size="40.6" textLength="171" lengthAdjust="spacingAndGlyphs" class="h2" transform="rotate(-90 298.8 564)">Pressure</text>
<text x="298.8" y="373" font-size="40.6" textLength="94" lengthAdjust="spacingAndGlyphs" class="h2" transform="rotate(-90 298.8 373)">(mb)</text>
<text x="1436.3" y="539.5" font-size="40.6" textLength="124" lengthAdjust="spacingAndGlyphs" class="h2" transform="rotate(-90 1436.3 539.5)">Height</text>
<text x="1436.3" y="396.6" font-size="40.6" textLength="93" lengthAdjust="spacingAndGlyphs" class="h2" transform="rotate(-90 1436.3 396.6)">(km)</text>
<text x="701" y="674.6" font-size="23" textLength="38.5" lengthAdjust="spacingAndGlyphs" class="h0">MIN</text>
<text x="751.7" y="674.6" font-size="23" textLength="18" lengthAdjust="spacingAndGlyphs" class="h0">=</text>
<text x="794.3" y="674.6" font-size="23" textLength="68" lengthAdjust="spacingAndGlyphs" class="h0">−0.19</text>
<text x="885.6" y="674.6" font-size="23" textLength="44.5" lengthAdjust="spacingAndGlyphs" class="h0">MAX</text>
<text x="942" y="674.6" font-size="23" textLength="18" lengthAdjust="spacingAndGlyphs" class="h0">=</text>
<text x="994.3" y="674.6" font-size="23" textLength="51" lengthAdjust="spacingAndGlyphs" class="h0">0.33</text>
<rect x="425" y="696.8" width="56.1" height="14" fill="#00008B" stroke="#000" stroke-width="1.5"/>
<rect x="481.1" y="696.8" width="56.1" height="14" fill="#001CBA" stroke="#000" stroke-width="1.5"/>
<rect x="537.1" y="696.8" width="56.1" height="14" fill="#0030E0" stroke="#000" stroke-width="1.5"/>
<rect x="593.2" y="696.8" width="56.1" height="14" fill="#1A50FF" stroke="#000" stroke-width="1.5"/>
<rect x="649.2" y="696.8" width="56.1" height="14" fill="#4076FF" stroke="#000" stroke-width="1.5"/>
<rect x="705.3" y="696.8" width="56.1" height="14" fill="#82AAFF" stroke="#000" stroke-width="1.5"/>
<rect x="761.4" y="696.8" width="56.1" height="14" fill="#B4CDFF" stroke="#000" stroke-width="1.5"/>
<rect x="817.4" y="696.8" width="56.1" height="14" fill="#D7EBFF" stroke="#000" stroke-width="1.5"/>
<rect x="873.5" y="696.8" width="56.1" height="14" fill="#FFE9D5" stroke="#000" stroke-width="1.5"/>
<rect x="929.6" y="696.8" width="56.1" height="14" fill="#FFCCB1" stroke="#000" stroke-width="1.5"/>
<rect x="985.6" y="696.8" width="56.1" height="14" fill="#FFA983" stroke="#000" stroke-width="1.5"/>
<rect x="1041.7" y="696.8" width="56.1" height="14" fill="#FE7942" stroke="#000" stroke-width="1.5"/>
<rect x="1097.8" y="696.8" width="56.1" height="14" fill="#FF521B" stroke="#000" stroke-width="1.5"/>
<rect x="1153.8" y="696.8" width="56.1" height="14" fill="#E23604" stroke="#000" stroke-width="1.5"/>
<rect x="1209.9" y="696.8" width="56.1" height="14" fill="#BA2703" stroke="#000" stroke-width="1.5"/>
<rect x="1265.9" y="696.8" width="56.1" height="14" fill="#8B0000" stroke="#000" stroke-width="1.5"/>
<text x="537.1" y="736.1" font-size="23" text-anchor="middle" textLength="52" lengthAdjust="spacingAndGlyphs" class="h0">−1.5</text>
<text x="649.2" y="736.1" font-size="23" text-anchor="middle" textLength="52" lengthAdjust="spacingAndGlyphs" class="h0">−0.9</text>
<text x="761.4" y="736.1" font-size="23" text-anchor="middle" textLength="52" lengthAdjust="spacingAndGlyphs" class="h0">−0.3</text>
<text x="873.5" y="736.1" font-size="23" text-anchor="middle" textLength="13" lengthAdjust="spacingAndGlyphs" class="h0">0</text>
<text x="985.6" y="736.1" font-size="23" text-anchor="middle" textLength="33" lengthAdjust="spacingAndGlyphs" class="h0">0.3</text>
<text x="1097.8" y="736.1" font-size="23" text-anchor="middle" textLength="33" lengthAdjust="spacingAndGlyphs" class="h0">0.9</text>
<text x="1209.9" y="736.1" font-size="23" text-anchor="middle" textLength="33" lengthAdjust="spacingAndGlyphs" class="h0">1.5</text>
</g>
</svg></body></html>
